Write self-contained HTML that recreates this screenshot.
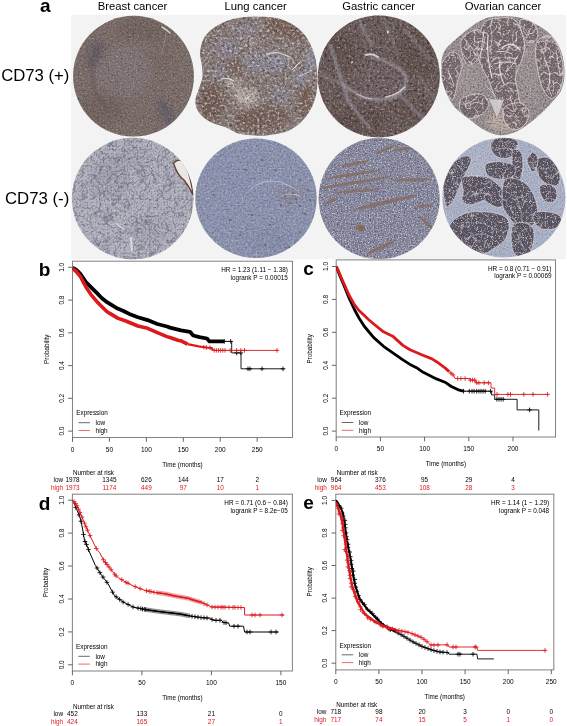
<!DOCTYPE html><html><head><meta charset="utf-8"><style>html,body{margin:0;padding:0;background:#fff;}svg{display:block}</style></head><body>
<svg width="567" height="726" viewBox="0 0 567 726" font-family='"Liberation Sans", sans-serif'>
<rect width="567" height="726" fill="#fff"/>
<defs><filter id="blur3" x="-20%" y="-20%" width="140%" height="140%"><feGaussianBlur stdDeviation="3"/></filter><filter id="blur1" x="-20%" y="-20%" width="140%" height="140%"><feGaussianBlur stdDeviation="0.9"/></filter><clipPath id="c_bp"><circle cx="133.5" cy="76.2" r="60.4"/></clipPath><clipPath id="c_lp"><path d="M255.0 16.8C262.8 16.8 272.5 16.8 280.0 19.0C287.5 21.2 294.7 25.2 300.0 30.0C305.3 34.8 309.2 41.3 312.0 48.0C314.8 54.7 316.3 62.2 317.0 70.0C317.7 77.8 317.7 87.5 316.0 95.0C314.3 102.5 311.3 109.2 307.0 115.0C302.7 120.8 297.0 126.6 290.0 130.0C283.0 133.4 273.2 134.8 265.0 135.5C256.8 136.2 246.3 134.8 241.0 134.0C235.7 133.2 235.7 132.2 233.0 131.0C230.3 129.8 228.2 128.2 225.0 127.0C221.8 125.8 217.3 124.9 214.0 123.5C210.7 122.1 207.8 120.8 205.0 118.5C202.2 116.2 198.8 112.6 197.2 109.4C195.6 106.2 195.3 102.8 195.6 99.5C195.8 96.2 197.6 93.3 198.7 89.6C199.8 85.9 201.9 81.3 202.4 77.2C202.9 73.1 202.2 68.9 201.8 64.8C201.4 60.7 199.6 56.9 200.0 52.4C200.4 47.9 201.5 42.2 204.0 38.0C206.5 33.8 210.2 30.2 215.0 27.0C219.8 23.8 226.3 20.7 233.0 19.0C239.7 17.3 247.2 16.8 255.0 16.8Z" fill="#000" fill-opacity="1.0"/></clipPath><clipPath id="c_gp"><circle cx="378.8" cy="76.4" r="61"/></clipPath><clipPath id="c_op"><path d="M493.0 16.8C499.3 16.2 510.9 16.0 518.0 17.2C525.1 18.4 530.0 21.0 535.5 24.0C541.0 27.0 546.8 30.5 551.0 35.0C555.2 39.5 558.7 44.8 561.0 51.0C563.3 57.2 564.5 65.6 564.6 72.0C564.7 78.4 563.4 84.7 561.5 89.5C559.6 94.3 556.2 97.2 553.0 101.0C549.8 104.8 546.0 108.8 542.0 112.5C538.0 116.2 533.4 120.2 529.0 123.5C524.6 126.8 520.3 130.0 515.5 132.0C510.7 134.0 505.2 135.6 500.0 135.3C494.8 135.0 489.6 132.7 484.4 130.0C479.2 127.3 474.2 123.1 469.0 119.0C463.8 114.9 457.4 110.8 453.3 105.5C449.2 100.2 446.2 93.3 444.2 87.3C442.1 81.3 441.0 75.4 441.0 69.5C441.0 63.6 441.7 56.7 444.0 51.8C446.3 46.9 450.9 43.8 455.0 40.0C459.1 36.2 464.3 32.0 468.5 28.8C472.7 25.6 475.9 23.0 480.0 21.0C484.1 19.0 486.7 17.4 493.0 16.8Z" fill="#000" fill-opacity="1.0"/></clipPath><clipPath id="c_bm"><circle cx="132.7" cy="198.6" r="60.8"/></clipPath><clipPath id="c_lm"><ellipse cx="256" cy="198.3" rx="60.7" ry="59.8"/></clipPath><clipPath id="c_gm"><circle cx="379.2" cy="198.6" r="60.5"/></clipPath><clipPath id="c_om"><ellipse cx="503.9" cy="197.6" rx="61.5" ry="59.8"/></clipPath><clipPath id="pp_op"><path d="M484.4 22.9C488.1 18.4 494.8 18.4 500.0 18.0C505.2 17.6 511.5 16.6 515.6 20.7C519.7 24.8 523.3 36.6 524.4 42.9C525.5 49.2 523.7 52.8 522.2 58.4C520.7 64.0 516.3 70.6 515.6 76.2C514.9 81.8 517.1 86.6 517.8 91.8C518.5 97.0 520.8 102.9 520.0 107.3C519.2 111.7 515.9 117.7 513.3 118.4C510.7 119.2 507.3 115.1 504.4 111.8C501.4 108.5 498.2 103.6 495.6 98.4C493.0 93.2 491.5 86.6 488.9 80.7C486.3 74.8 481.9 68.8 480.0 62.9C478.1 57.0 477.1 51.8 477.8 45.1C478.5 38.4 480.7 27.4 484.4 22.9Z" fill="#000" fill-opacity="1.0"/><path d="M462.2 38.4C464.8 34.3 474.1 29.2 477.8 29.6C481.5 30.0 484.4 35.9 484.4 40.7C484.4 45.5 480.4 54.3 477.8 58.4C475.2 62.5 471.5 65.8 468.9 65.1C466.3 64.4 463.3 58.5 462.2 54.0C461.1 49.5 459.6 42.5 462.2 38.4Z" fill="#000" fill-opacity="1.0"/><path d="M442.2 62.9C444.1 58.1 450.0 51.8 453.3 51.8C456.6 51.8 461.4 58.1 462.2 62.9C462.9 67.7 459.3 74.8 457.8 80.7C456.3 86.6 455.2 96.2 453.3 98.4C451.4 100.6 448.6 97.0 446.7 94.0C444.8 91.0 442.9 85.9 442.2 80.7C441.4 75.5 440.3 67.7 442.2 62.9Z" fill="#000" fill-opacity="1.0"/><path d="M537.8 40.7C540.4 37.7 547.4 34.4 551.1 36.2C554.8 38.1 558.0 45.9 560.0 51.8C562.0 57.7 563.3 65.5 563.3 71.8C563.3 78.1 562.0 85.2 560.0 89.6C558.0 94.0 554.1 98.8 551.1 98.4C548.1 98.0 544.4 92.1 542.2 87.3C540.0 82.5 538.9 75.1 537.8 69.6C536.7 64.0 535.6 58.8 535.6 54.0C535.6 49.2 535.2 43.7 537.8 40.7Z" fill="#000" fill-opacity="1.0"/><path d="M462.2 98.4C465.5 95.8 475.6 93.2 480.0 94.0C484.4 94.8 488.5 99.6 488.9 102.9C489.3 106.2 485.5 111.4 482.2 114.0C478.9 116.6 472.6 119.1 468.9 118.4C465.2 117.7 461.1 112.9 460.0 109.6C458.9 106.3 458.9 101.0 462.2 98.4Z" fill="#000" fill-opacity="1.0"/><path d="M504.4 107.3C507.0 104.3 515.9 102.2 520.0 102.9C524.1 103.7 528.2 108.1 528.9 111.8C529.6 115.5 527.0 122.1 524.4 125.1C521.8 128.1 516.6 130.3 513.3 129.6C510.0 128.9 505.9 124.4 504.4 120.7C502.9 117.0 501.8 110.3 504.4 107.3Z" fill="#000" fill-opacity="1.0"/><path d="M520.0 20.7C521.5 18.1 530.3 20.3 533.3 22.9C536.3 25.5 538.2 32.9 537.8 36.2C537.4 39.5 533.3 42.5 531.1 42.9C528.9 43.3 526.2 42.1 524.4 38.4C522.5 34.7 518.5 23.3 520.0 20.7Z" fill="#000" fill-opacity="1.0"/></clipPath><clipPath id="pp_om"><path d="M491.1 142.7C492.0 140.5 494.5 138.9 497.8 138.2C501.1 137.4 507.8 137.4 511.1 138.2C514.4 138.9 516.9 140.8 517.8 142.7C518.7 144.5 517.5 147.3 516.7 149.3C516.0 151.3 515.0 153.4 513.3 154.9C511.6 156.4 509.3 157.8 506.7 158.2C504.1 158.6 500.2 158.2 497.8 157.1C495.4 156.0 493.3 154.0 492.2 151.6C491.1 149.2 490.2 144.9 491.1 142.7Z" fill="#000" fill-opacity="1.0"/><path d="M513.0 150.0C514.5 148.2 519.3 149.5 521.0 152.0C522.7 154.5 523.2 160.3 523.0 165.0C522.8 169.7 521.7 177.8 520.0 180.0C518.3 182.2 514.3 180.8 513.0 178.0C511.7 175.2 512.0 167.7 512.0 163.0C512.0 158.3 511.5 151.8 513.0 150.0Z" fill="#000" fill-opacity="1.0"/><path d="M444.4 176.0C445.8 171.4 448.7 167.3 452.0 164.0C455.3 160.7 461.2 156.6 464.4 156.0C467.6 155.4 471.5 156.3 471.1 160.4C470.7 164.5 465.2 173.7 462.2 180.4C459.2 187.1 455.9 196.0 453.3 200.4C450.7 204.8 448.4 208.6 446.7 207.1C445.0 205.6 443.7 196.8 443.3 191.6C442.9 186.4 442.9 180.6 444.4 176.0Z" fill="#000" fill-opacity="1.0"/><path d="M462.2 178.2C463.9 175.6 469.2 176.2 473.3 176.0C477.4 175.8 483.0 176.0 486.7 177.1C490.4 178.2 492.7 180.3 495.6 182.7C498.6 185.1 502.5 188.6 504.4 191.6C506.2 194.6 507.4 197.8 506.7 200.4C506.0 203.0 502.6 206.3 500.0 207.1C497.4 207.8 493.7 206.0 491.1 204.9C488.5 203.8 486.6 200.8 484.4 200.4C482.2 200.0 480.4 201.9 477.8 202.7C475.2 203.4 471.5 205.3 468.9 204.9C466.3 204.5 463.1 202.6 462.2 200.4C461.3 198.2 463.3 195.3 463.3 191.6C463.3 187.9 460.5 180.8 462.2 178.2Z" fill="#000" fill-opacity="1.0"/><path d="M485.6 164.9C487.1 162.9 492.1 162.0 495.6 161.6C499.1 161.2 503.4 161.8 506.7 162.7C510.0 163.6 514.5 164.9 515.6 167.1C516.7 169.3 515.2 174.0 513.3 176.0C511.4 178.0 507.7 178.9 504.4 179.3C501.1 179.7 496.2 179.1 493.3 178.2C490.4 177.3 488.0 176.0 486.7 173.8C485.4 171.6 484.1 166.9 485.6 164.9Z" fill="#000" fill-opacity="1.0"/><path d="M504.4 180.4C507.0 176.5 513.7 178.2 517.8 179.3C521.9 180.4 525.9 183.6 528.9 187.1C531.9 190.6 534.1 195.9 535.6 200.4C537.1 204.9 538.2 209.7 537.8 213.8C537.4 217.9 535.5 222.3 533.3 224.9C531.1 227.5 527.3 229.3 524.4 229.3C521.5 229.3 518.6 227.5 515.6 224.9C512.6 222.3 508.9 217.5 506.7 213.8C504.5 210.1 502.6 208.3 502.2 202.7C501.8 197.1 501.8 184.3 504.4 180.4Z" fill="#000" fill-opacity="1.0"/><path d="M535.6 160.4C537.3 158.4 543.4 156.3 546.7 157.1C550.0 157.8 553.4 161.8 555.6 164.9C557.8 168.1 559.6 172.7 560.0 176.0C560.4 179.3 559.6 183.4 557.8 184.9C555.9 186.4 551.9 186.0 548.9 184.9C545.9 183.8 542.0 180.8 540.0 178.2C538.0 175.6 537.4 172.3 536.7 169.3C536.0 166.3 533.9 162.4 535.6 160.4Z" fill="#000" fill-opacity="1.0"/><path d="M540.0 186.0C541.5 183.8 548.3 184.0 551.1 184.9C553.9 185.8 556.0 189.0 556.7 191.6C557.5 194.2 556.9 198.6 555.6 200.4C554.3 202.2 551.1 203.1 548.9 202.7C546.7 202.3 543.7 201.0 542.2 198.2C540.7 195.4 538.5 188.2 540.0 186.0Z" fill="#000" fill-opacity="1.0"/><path d="M453.3 220.4C455.9 217.8 460.3 215.3 464.4 213.8C468.5 212.3 473.0 211.8 477.8 211.6C482.6 211.4 488.5 211.6 493.3 212.7C498.1 213.8 504.1 215.4 506.7 218.2C509.3 221.0 509.3 225.6 508.9 229.3C508.5 233.0 506.6 237.4 504.4 240.4C502.2 243.4 498.9 244.9 495.6 247.1C492.3 249.3 488.1 252.7 484.4 253.8C480.7 254.9 477.0 254.9 473.3 253.8C469.6 252.7 465.5 249.7 462.2 247.1C458.9 244.5 455.5 241.2 453.3 238.2C451.1 235.2 448.9 232.3 448.9 229.3C448.9 226.3 450.7 223.0 453.3 220.4Z" fill="#000" fill-opacity="1.0"/><path d="M533.3 213.8C534.8 211.2 542.2 211.2 546.7 211.6C551.2 212.0 557.8 213.8 560.0 216.0C562.2 218.2 561.5 222.7 560.0 224.9C558.5 227.1 554.8 228.9 551.1 229.3C547.4 229.7 540.8 229.7 537.8 227.1C534.8 224.5 531.8 216.4 533.3 213.8Z" fill="#000" fill-opacity="1.0"/><path d="M513.3 224.9C515.5 222.3 521.1 222.0 524.4 222.7C527.7 223.4 531.8 226.0 533.3 229.3C534.8 232.6 534.0 238.6 533.3 242.7C532.6 246.8 531.1 251.4 528.9 253.8C526.7 256.2 522.6 257.5 520.0 257.1C517.4 256.7 514.8 254.8 513.3 251.6C511.8 248.4 511.1 242.6 511.1 238.2C511.1 233.8 511.1 227.5 513.3 224.9Z" fill="#000" fill-opacity="1.0"/><path d="M527.0 160.0C527.0 156.7 531.2 152.0 533.0 152.0C534.8 152.0 538.0 156.7 538.0 160.0C538.0 163.3 534.8 172.0 533.0 172.0C531.2 172.0 527.0 163.3 527.0 160.0Z" fill="#000" fill-opacity="1.0"/></clipPath><filter id="f0" x="0" y="0" width="1" height="1" color-interpolation-filters="sRGB"><feTurbulence type="fractalNoise" baseFrequency="0.6" numOctaves="2" seed="55"/><feColorMatrix type="matrix" values="0 0 0 0 0.867  0 0 0 0 0.816  0 0 0 0 0.800  2.8 0 0 0 -1.45"/></filter><filter id="f1" x="0" y="0" width="1" height="1" color-interpolation-filters="sRGB"><feTurbulence type="turbulence" baseFrequency="0.12" numOctaves="2" seed="57"/><feColorMatrix type="matrix" values="0 0 0 0 0.894  0 0 0 0 0.863  0 0 0 0 0.863  -6 0 0 0 1.1"/></filter><filter id="f2" x="0" y="0" width="1" height="1" color-interpolation-filters="sRGB"><feTurbulence type="fractalNoise" baseFrequency="0.8" numOctaves="2" seed="95"/><feColorMatrix type="matrix" values="0 0 0 0 0.894  0 0 0 0 0.863  0 0 0 0 0.847  2.9 0 0 0 -1.5"/></filter><filter id="f3" x="0" y="0" width="1" height="1" color-interpolation-filters="sRGB"><feTurbulence type="turbulence" baseFrequency="0.13" numOctaves="2" seed="97"/><feColorMatrix type="matrix" values="0 0 0 0 0.867  0 0 0 0 0.831  0 0 0 0 0.831  -7 0 0 0 1.0"/></filter><filter id="f4" x="0" y="0" width="1" height="1" color-interpolation-filters="sRGB"><feTurbulence type="fractalNoise" baseFrequency="0.6" numOctaves="2" seed="11"/><feColorMatrix type="matrix" values="0 0 0 0 0.212  0 0 0 0 0.173  0 0 0 0 0.173  2.2 0 0 0 -1.05"/></filter><filter id="f5" x="0" y="0" width="1" height="1" color-interpolation-filters="sRGB"><feTurbulence type="fractalNoise" baseFrequency="0.55" numOctaves="2" seed="23"/><feColorMatrix type="matrix" values="0 0 0 0 0.863  0 0 0 0 0.831  0 0 0 0 0.831  2.6 0 0 0 -1.5"/></filter><filter id="f6" x="0" y="0" width="1" height="1" color-interpolation-filters="sRGB"><feTurbulence type="fractalNoise" baseFrequency="0.4" numOctaves="2" seed="31"/><feColorMatrix type="matrix" values="0 0 0 0 0.290  0 0 0 0 0.220  0 0 0 0 0.188  3.0 0 0 0 -1.5"/></filter><filter id="f7" x="0" y="0" width="1" height="1" color-interpolation-filters="sRGB"><feTurbulence type="fractalNoise" baseFrequency="0.4" numOctaves="2" seed="37"/><feColorMatrix type="matrix" values="0 0 0 0 0.863  0 0 0 0 0.839  0 0 0 0 0.831  3.0 0 0 0 -1.5"/></filter><filter id="f8" x="0" y="0" width="1" height="1" color-interpolation-filters="sRGB"><feTurbulence type="fractalNoise" baseFrequency="0.9" numOctaves="2" seed="39"/><feColorMatrix type="matrix" values="0 0 0 0 0.227  0 0 0 0 0.173  0 0 0 0 0.157  2.4 0 0 0 -1.2"/></filter><filter id="f9" x="0" y="0" width="1" height="1" color-interpolation-filters="sRGB"><feTurbulence type="fractalNoise" baseFrequency="0.4" numOctaves="2" seed="41"/><feColorMatrix type="matrix" values="0 0 0 0 0.227  0 0 0 0 0.165  0 0 0 0 0.157  2.8 0 0 0 -1.35"/></filter><filter id="f10" x="0" y="0" width="1" height="1" color-interpolation-filters="sRGB"><feTurbulence type="fractalNoise" baseFrequency="0.45" numOctaves="2" seed="43"/><feColorMatrix type="matrix" values="0 0 0 0 0.831  0 0 0 0 0.800  0 0 0 0 0.816  2.8 0 0 0 -1.55"/></filter><filter id="f11" x="0" y="0" width="1" height="1" color-interpolation-filters="sRGB"><feTurbulence type="fractalNoise" baseFrequency="0.5" numOctaves="2" seed="45"/><feColorMatrix type="matrix" values="0 0 0 0 0.541  0 0 0 0 0.353  0 0 0 0 0.251  3.0 0 0 0 -1.6"/></filter><filter id="f12" x="0" y="0" width="1" height="1" color-interpolation-filters="sRGB"><feTurbulence type="fractalNoise" baseFrequency="0.9" numOctaves="2" seed="47"/><feColorMatrix type="matrix" values="0 0 0 0 0.180  0 0 0 0 0.133  0 0 0 0 0.133  2.4 0 0 0 -1.2"/></filter><filter id="f13" x="0" y="0" width="1" height="1" color-interpolation-filters="sRGB"><feTurbulence type="fractalNoise" baseFrequency="0.6" numOctaves="2" seed="51"/><feColorMatrix type="matrix" values="0 0 0 0 0.290  0 0 0 0 0.227  0 0 0 0 0.235  2.3 0 0 0 -1.05"/></filter><filter id="f14" x="0" y="0" width="1" height="1" color-interpolation-filters="sRGB"><feTurbulence type="fractalNoise" baseFrequency="0.6" numOctaves="2" seed="53"/><feColorMatrix type="matrix" values="0 0 0 0 0.894  0 0 0 0 0.863  0 0 0 0 0.863  2.4 0 0 0 -1.3"/></filter><filter id="f15" x="0" y="0" width="1" height="1" color-interpolation-filters="sRGB"><feTurbulence type="fractalNoise" baseFrequency="0.55" numOctaves="2" seed="61"/><feColorMatrix type="matrix" values="0 0 0 0 0.361  0 0 0 0 0.369  0 0 0 0 0.439  2.6 0 0 0 -1.2"/></filter><filter id="f16" x="0" y="0" width="1" height="1" color-interpolation-filters="sRGB"><feTurbulence type="fractalNoise" baseFrequency="0.5" numOctaves="2" seed="63"/><feColorMatrix type="matrix" values="0 0 0 0 0.847  0 0 0 0 0.847  0 0 0 0 0.871  2.4 0 0 0 -1.15"/></filter><filter id="f17" x="0" y="0" width="1" height="1" color-interpolation-filters="sRGB"><feTurbulence type="turbulence" baseFrequency="0.12" numOctaves="2" seed="65"/><feColorMatrix type="matrix" values="0 0 0 0 0.353  0 0 0 0 0.353  0 0 0 0 0.447  -6 0 0 0 1.05"/></filter><filter id="f18" x="0" y="0" width="1" height="1" color-interpolation-filters="sRGB"><feTurbulence type="fractalNoise" baseFrequency="0.55" numOctaves="2" seed="71"/><feColorMatrix type="matrix" values="0 0 0 0 0.353  0 0 0 0 0.369  0 0 0 0 0.478  2.4 0 0 0 -1.1"/></filter><filter id="f19" x="0" y="0" width="1" height="1" color-interpolation-filters="sRGB"><feTurbulence type="fractalNoise" baseFrequency="0.5" numOctaves="2" seed="73"/><feColorMatrix type="matrix" values="0 0 0 0 0.784  0 0 0 0 0.792  0 0 0 0 0.847  2.6 0 0 0 -1.35"/></filter><filter id="f20" x="0" y="0" width="1" height="1" color-interpolation-filters="sRGB"><feTurbulence type="fractalNoise" baseFrequency="0.7" numOctaves="2" seed="81"/><feColorMatrix type="matrix" values="0 0 0 0 0.306  0 0 0 0 0.306  0 0 0 0 0.400  2.6 0 0 0 -1.15"/></filter><filter id="f21" x="0" y="0" width="1" height="1" color-interpolation-filters="sRGB"><feTurbulence type="fractalNoise" baseFrequency="0.75" numOctaves="2" seed="83"/><feColorMatrix type="matrix" values="0 0 0 0 0.894  0 0 0 0 0.894  0 0 0 0 0.925  2.8 0 0 0 -1.42"/></filter><filter id="f22" x="0" y="0" width="1" height="1" color-interpolation-filters="sRGB"><feTurbulence type="fractalNoise" baseFrequency="0.7" numOctaves="2" seed="91"/><feColorMatrix type="matrix" values="0 0 0 0 0.314  0 0 0 0 0.314  0 0 0 0 0.369  2.2 0 0 0 -1.1"/></filter><filter id="f23" x="0" y="0" width="1" height="1" color-interpolation-filters="sRGB"><feTurbulence type="fractalNoise" baseFrequency="0.8" numOctaves="2" seed="93"/><feColorMatrix type="matrix" values="0 0 0 0 0.910  0 0 0 0 0.910  0 0 0 0 0.933  2.6 0 0 0 -1.35"/></filter></defs>
<rect x="71" y="14.8" width="495" height="244.5" fill="#f3f3f3"/>
<g clip-path="url(#c_bp)">
<rect x="72" y="15" width="123" height="123" fill="#7d6f6b"/>
<g filter="url(#blur3)"><ellipse cx="125" cy="72" rx="28" ry="24" transform="rotate(0 125 72)" fill="#857a80" fill-opacity="0.6"/><ellipse cx="95" cy="55" rx="8" ry="14" transform="rotate(20 95 55)" fill="#5e5660" fill-opacity="0.6"/><ellipse cx="165" cy="112" rx="8" ry="14" transform="rotate(-30 165 112)" fill="#5e5a66" fill-opacity="0.5"/><ellipse cx="100" cy="110" rx="25" ry="15" transform="rotate(0 100 110)" fill="#6e5e58" fill-opacity="0.5"/><ellipse cx="160" cy="55" rx="15" ry="20" transform="rotate(0 160 55)" fill="#7a6a64" fill-opacity="0.4"/><ellipse cx="145" cy="30" rx="30" ry="10" transform="rotate(0 145 30)" fill="#6a5a56" fill-opacity="0.4"/></g>
<rect x="72" y="15" width="123" height="123" fill="#000" filter="url(#f4)" opacity="0.6"/>
<rect x="72" y="15" width="123" height="123" fill="#000" filter="url(#f5)" opacity="0.5"/>
<g filter="url(#blur1)"><path d="M102 42 Q88 58 94 88 Q98 100 108 108" stroke="#5c5460" stroke-width="2.6" stroke-linecap="round" stroke-linejoin="round" stroke-opacity="0.5" fill="none"/><path d="M160 100 Q168 110 170 124" stroke="#585466" stroke-width="2.6" stroke-linecap="round" stroke-linejoin="round" stroke-opacity="0.45" fill="none"/><path d="M118 50 Q140 44 158 52" stroke="#8e8490" stroke-width="2.0" stroke-linecap="round" stroke-linejoin="round" stroke-opacity="0.35" fill="none"/></g>
<path d="M162 27 Q167 30 170 33" stroke="#e8e8e8" stroke-width="1.5" stroke-linecap="round" stroke-linejoin="round" stroke-opacity="0.8" fill="none"/><path d="M166 34 Q165 45 161 56" stroke="#b0acb4" stroke-width="0.8" stroke-linecap="round" stroke-linejoin="round" stroke-opacity="0.5" fill="none"/>
</g>
<g clip-path="url(#c_lp)">
<rect x="194" y="15" width="125" height="123" fill="#887c7a"/>
<g filter="url(#blur3)"><ellipse cx="290" cy="28" rx="25" ry="10" transform="rotate(10 290 28)" fill="#6e5448" fill-opacity="0.6"/><ellipse cx="212" cy="102" rx="12" ry="20" transform="rotate(0 212 102)" fill="#6a5044" fill-opacity="0.6"/><ellipse cx="262" cy="118" rx="28" ry="12" transform="rotate(-5 262 118)" fill="#6e5448" fill-opacity="0.6"/><ellipse cx="305" cy="100" rx="8" ry="16" transform="rotate(0 305 100)" fill="#6e5446" fill-opacity="0.6"/><ellipse cx="235" cy="65" rx="10" ry="8" transform="rotate(0 235 65)" fill="#6e5446" fill-opacity="0.5"/><ellipse cx="266" cy="62" rx="25" ry="10" transform="rotate(0 266 62)" fill="#8e92a8" fill-opacity="0.7"/><ellipse cx="228" cy="48" rx="12" ry="10" transform="rotate(0 228 48)" fill="#8e90a6" fill-opacity="0.6"/><ellipse cx="300" cy="78" rx="8" ry="8" transform="rotate(0 300 78)" fill="#9094aa" fill-opacity="0.6"/><ellipse cx="245" cy="30" rx="12" ry="6" transform="rotate(0 245 30)" fill="#8c8ca2" fill-opacity="0.6"/><ellipse cx="282" cy="95" rx="10" ry="8" transform="rotate(0 282 95)" fill="#8e8ea4" fill-opacity="0.6"/><ellipse cx="218" cy="72" rx="8" ry="8" transform="rotate(0 218 72)" fill="#8c8ca2" fill-opacity="0.6"/><ellipse cx="311" cy="62" rx="5" ry="12" transform="rotate(0 311 62)" fill="#9498b0" fill-opacity="0.8"/><ellipse cx="246" cy="97" rx="12" ry="9" transform="rotate(20 246 97)" fill="#c4b8b2" fill-opacity="0.85"/><ellipse cx="232" cy="84" rx="7" ry="5" transform="rotate(0 232 84)" fill="#c8c0bc" fill-opacity="0.7"/><ellipse cx="250" cy="42" rx="6" ry="5" transform="rotate(0 250 42)" fill="#b0a8a8" fill-opacity="0.6"/></g>
<rect x="194" y="15" width="125" height="123" fill="#000" filter="url(#f6)" opacity="0.8"/>
<rect x="194" y="15" width="125" height="123" fill="#000" filter="url(#f7)" opacity="0.85"/>
<rect x="194" y="15" width="125" height="123" fill="#000" filter="url(#f8)" opacity="0.35"/>
<path d="M266 55 Q274 51 282 54 Q287 56 290 57" stroke="#eeeeee" stroke-width="1.2" stroke-linecap="round" stroke-linejoin="round" stroke-opacity="0.8" fill="none"/><path d="M292 70 L300 62" stroke="#f2f2f2" stroke-width="1.0" stroke-linecap="round" stroke-linejoin="round" stroke-opacity="0.85" fill="none"/><path d="M299 76 L309 72" stroke="#eeeeee" stroke-width="0.9" stroke-linecap="round" stroke-linejoin="round" stroke-opacity="0.8" fill="none"/><path d="M221 79 Q228 77 234 81" stroke="#f0f0f0" stroke-width="1.0" stroke-linecap="round" stroke-linejoin="round" stroke-opacity="0.85" fill="none"/><path d="M246 100 Q250 94 256 92" stroke="#ffffff" stroke-width="0.9" stroke-linecap="round" stroke-linejoin="round" stroke-opacity="0.6" fill="none"/>
</g>
<g clip-path="url(#c_gp)">
<rect x="317" y="15" width="124" height="124" fill="#6e6262"/>
<g filter="url(#blur3)"><ellipse cx="378" cy="80" rx="28" ry="16" transform="rotate(15 378 80)" fill="#7a6e74" fill-opacity="0.5"/><ellipse cx="340" cy="50" rx="15" ry="25" transform="rotate(-30 340 50)" fill="#5e4e4c" fill-opacity="0.6"/><ellipse cx="415" cy="55" rx="15" ry="25" transform="rotate(-30 415 55)" fill="#5e4e4a" fill-opacity="0.6"/><ellipse cx="360" cy="120" rx="25" ry="12" transform="rotate(0 360 120)" fill="#5c4c48" fill-opacity="0.6"/><ellipse cx="410" cy="110" rx="18" ry="12" transform="rotate(0 410 110)" fill="#62524e" fill-opacity="0.5"/></g>
<rect x="317" y="15" width="124" height="124" fill="#000" filter="url(#f9)" opacity="0.85"/>
<rect x="317" y="15" width="124" height="124" fill="#000" filter="url(#f10)" opacity="0.7"/>
<rect x="317" y="15" width="124" height="124" fill="#000" filter="url(#f11)" opacity="0.6"/>
<rect x="317" y="15" width="124" height="124" fill="#000" filter="url(#f12)" opacity="0.4"/>
<g filter="url(#blur1)"><path d="M330 45 Q338 70 348 100 Q358 115 370 128" stroke="#a09cac" stroke-width="2.8" stroke-linecap="round" stroke-linejoin="round" stroke-opacity="0.65" fill="none"/><path d="M360 22 Q366 35 372 45" stroke="#a09cac" stroke-width="2.4" stroke-linecap="round" stroke-linejoin="round" stroke-opacity="0.6" fill="none"/><path d="M372 57 Q395 62 406 76 Q408 90 392 98 Q375 102 360 96 Q350 90 343 84" stroke="#a8a4b4" stroke-width="2.6" stroke-linecap="round" stroke-linejoin="round" stroke-opacity="0.7" fill="none"/><path d="M400 95 Q412 108 425 120" stroke="#9c98a8" stroke-width="2.4" stroke-linecap="round" stroke-linejoin="round" stroke-opacity="0.6" fill="none"/><path d="M405 30 Q418 45 430 60" stroke="#9c98a8" stroke-width="2.2" stroke-linecap="round" stroke-linejoin="round" stroke-opacity="0.55" fill="none"/><path d="M320 75 Q330 78 342 84" stroke="#9c98a8" stroke-width="2.0" stroke-linecap="round" stroke-linejoin="round" stroke-opacity="0.5" fill="none"/><path d="M385 20 Q392 40 398 55" stroke="#948f9e" stroke-width="2.0" stroke-linecap="round" stroke-linejoin="round" stroke-opacity="0.45" fill="none"/><path d="M418 75 Q428 90 436 100" stroke="#948f9e" stroke-width="2.0" stroke-linecap="round" stroke-linejoin="round" stroke-opacity="0.45" fill="none"/></g>
<path d="M366 55 Q372 53 378 57" stroke="#e8e6ea" stroke-width="2.0" stroke-linecap="round" stroke-linejoin="round" stroke-opacity="0.85" fill="none"/><path d="M386 97 Q397 95 405 87" stroke="#e6e4e8" stroke-width="1.5" stroke-linecap="round" stroke-linejoin="round" stroke-opacity="0.8" fill="none"/><path d="M357 94 Q364 98 372 99" stroke="#e6e4e8" stroke-width="1.1" stroke-linecap="round" stroke-linejoin="round" stroke-opacity="0.6" fill="none"/><ellipse cx="388" cy="32" rx="1.2" ry="1.2" transform="rotate(0 388 32)" fill="#f0f0f0" fill-opacity="0.8"/><ellipse cx="352" cy="62" rx="1.0" ry="1.0" transform="rotate(0 352 62)" fill="#f0f0f0" fill-opacity="0.8"/>
</g>
<g clip-path="url(#c_op)">
<rect x="440" y="15" width="126" height="122" fill="#9a9294"/>
<g filter="url(#blur3)"><ellipse cx="505" cy="122" rx="18" ry="10" transform="rotate(0 505 122)" fill="#c2b4aa" fill-opacity="0.8"/><ellipse cx="468" cy="80" rx="10" ry="20" transform="rotate(0 468 80)" fill="#aaa2a2" fill-opacity="0.5"/><ellipse cx="530" cy="75" rx="8" ry="30" transform="rotate(0 530 75)" fill="#a8a0a0" fill-opacity="0.5"/></g>
<rect x="440" y="15" width="126" height="122" fill="#000" filter="url(#f13)" opacity="0.7"/>
<rect x="440" y="15" width="126" height="122" fill="#000" filter="url(#f14)" opacity="0.6"/>
<path d="M484.4 22.9C488.1 18.4 494.8 18.4 500.0 18.0C505.2 17.6 511.5 16.6 515.6 20.7C519.7 24.8 523.3 36.6 524.4 42.9C525.5 49.2 523.7 52.8 522.2 58.4C520.7 64.0 516.3 70.6 515.6 76.2C514.9 81.8 517.1 86.6 517.8 91.8C518.5 97.0 520.8 102.9 520.0 107.3C519.2 111.7 515.9 117.7 513.3 118.4C510.7 119.2 507.3 115.1 504.4 111.8C501.4 108.5 498.2 103.6 495.6 98.4C493.0 93.2 491.5 86.6 488.9 80.7C486.3 74.8 481.9 68.8 480.0 62.9C478.1 57.0 477.1 51.8 477.8 45.1C478.5 38.4 480.7 27.4 484.4 22.9Z" fill="#6a5c60" fill-opacity="0.85" stroke="#ece8ea" stroke-width="0.9" stroke-opacity="0.75"/><path d="M462.2 38.4C464.8 34.3 474.1 29.2 477.8 29.6C481.5 30.0 484.4 35.9 484.4 40.7C484.4 45.5 480.4 54.3 477.8 58.4C475.2 62.5 471.5 65.8 468.9 65.1C466.3 64.4 463.3 58.5 462.2 54.0C461.1 49.5 459.6 42.5 462.2 38.4Z" fill="#6a5c60" fill-opacity="0.85" stroke="#ece8ea" stroke-width="0.9" stroke-opacity="0.75"/><path d="M442.2 62.9C444.1 58.1 450.0 51.8 453.3 51.8C456.6 51.8 461.4 58.1 462.2 62.9C462.9 67.7 459.3 74.8 457.8 80.7C456.3 86.6 455.2 96.2 453.3 98.4C451.4 100.6 448.6 97.0 446.7 94.0C444.8 91.0 442.9 85.9 442.2 80.7C441.4 75.5 440.3 67.7 442.2 62.9Z" fill="#6a5c60" fill-opacity="0.85" stroke="#ece8ea" stroke-width="0.9" stroke-opacity="0.75"/><path d="M537.8 40.7C540.4 37.7 547.4 34.4 551.1 36.2C554.8 38.1 558.0 45.9 560.0 51.8C562.0 57.7 563.3 65.5 563.3 71.8C563.3 78.1 562.0 85.2 560.0 89.6C558.0 94.0 554.1 98.8 551.1 98.4C548.1 98.0 544.4 92.1 542.2 87.3C540.0 82.5 538.9 75.1 537.8 69.6C536.7 64.0 535.6 58.8 535.6 54.0C535.6 49.2 535.2 43.7 537.8 40.7Z" fill="#6a5c60" fill-opacity="0.85" stroke="#ece8ea" stroke-width="0.9" stroke-opacity="0.75"/><path d="M462.2 98.4C465.5 95.8 475.6 93.2 480.0 94.0C484.4 94.8 488.5 99.6 488.9 102.9C489.3 106.2 485.5 111.4 482.2 114.0C478.9 116.6 472.6 119.1 468.9 118.4C465.2 117.7 461.1 112.9 460.0 109.6C458.9 106.3 458.9 101.0 462.2 98.4Z" fill="#6a5c60" fill-opacity="0.85" stroke="#ece8ea" stroke-width="0.9" stroke-opacity="0.75"/><path d="M504.4 107.3C507.0 104.3 515.9 102.2 520.0 102.9C524.1 103.7 528.2 108.1 528.9 111.8C529.6 115.5 527.0 122.1 524.4 125.1C521.8 128.1 516.6 130.3 513.3 129.6C510.0 128.9 505.9 124.4 504.4 120.7C502.9 117.0 501.8 110.3 504.4 107.3Z" fill="#6a5c60" fill-opacity="0.85" stroke="#ece8ea" stroke-width="0.9" stroke-opacity="0.75"/><path d="M520.0 20.7C521.5 18.1 530.3 20.3 533.3 22.9C536.3 25.5 538.2 32.9 537.8 36.2C537.4 39.5 533.3 42.5 531.1 42.9C528.9 43.3 526.2 42.1 524.4 38.4C522.5 34.7 518.5 23.3 520.0 20.7Z" fill="#6a5c60" fill-opacity="0.85" stroke="#ece8ea" stroke-width="0.9" stroke-opacity="0.75"/><rect x="440" y="10" width="127" height="255" fill="#000" filter="url(#f0)" opacity="0.9" clip-path="url(#pp_op)"/><rect x="440" y="10" width="127" height="255" fill="#000" filter="url(#f1)" opacity="0.8" clip-path="url(#pp_op)"/><path d="M489 99 L497 117 L504 100 Z" fill="#e4e0e0" fill-opacity="0.7"/><path d="M488 35 Q486 55 492 78" stroke="#f2f2f2" stroke-width="1.2" stroke-linecap="round" stroke-linejoin="round" stroke-opacity="0.8" fill="none"/><path d="M502 48 Q512 40 520 50" stroke="#f0f0f0" stroke-width="1.3" stroke-linecap="round" stroke-linejoin="round" stroke-opacity="0.85" fill="none"/><path d="M500 60 Q498 72 504 84" stroke="#eeeeee" stroke-width="1.2" stroke-linecap="round" stroke-linejoin="round" stroke-opacity="0.8" fill="none"/><path d="M506 72 Q514 64 518 56" stroke="#eeeeee" stroke-width="1.0" stroke-linecap="round" stroke-linejoin="round" stroke-opacity="0.7" fill="none"/><path d="M545 60 Q552 72 549 86" stroke="#eeeeee" stroke-width="1.0" stroke-linecap="round" stroke-linejoin="round" stroke-opacity="0.7" fill="none"/><path d="M496 52 Q505 50 512 54" stroke="#eeeeee" stroke-width="1.0" stroke-linecap="round" stroke-linejoin="round" stroke-opacity="0.8" fill="none"/><path d="M494 64 Q506 60 516 64" stroke="#eeeeee" stroke-width="1.0" stroke-linecap="round" stroke-linejoin="round" stroke-opacity="0.7" fill="none"/><path d="M500 88 Q508 80 516 84" stroke="#eeeeee" stroke-width="1.0" stroke-linecap="round" stroke-linejoin="round" stroke-opacity="0.7" fill="none"/><path d="M484 30 L480 60" stroke="#eeeeee" stroke-width="1.0" stroke-linecap="round" stroke-linejoin="round" stroke-opacity="0.7" fill="none"/><path d="M510 96 L514 110" stroke="#eeeeee" stroke-width="0.9" stroke-linecap="round" stroke-linejoin="round" stroke-opacity="0.7" fill="none"/><path d="M470 45 L476 55" stroke="#eeeeee" stroke-width="0.9" stroke-linecap="round" stroke-linejoin="round" stroke-opacity="0.7" fill="none"/><path d="M448 70 L454 85" stroke="#eeeeee" stroke-width="0.9" stroke-linecap="round" stroke-linejoin="round" stroke-opacity="0.7" fill="none"/><path d="M556 50 L560 75" stroke="#eeeeee" stroke-width="0.9" stroke-linecap="round" stroke-linejoin="round" stroke-opacity="0.7" fill="none"/><path d="M470 105 Q476 100 482 104" stroke="#eeeeee" stroke-width="0.9" stroke-linecap="round" stroke-linejoin="round" stroke-opacity="0.7" fill="none"/><path d="M490 25 Q494 40 490 50" stroke="#eeeeee" stroke-width="0.8" stroke-linecap="round" stroke-linejoin="round" stroke-opacity="0.6" fill="none"/><path d="M514 30 Q510 40 516 48" stroke="#eeeeee" stroke-width="0.8" stroke-linecap="round" stroke-linejoin="round" stroke-opacity="0.6" fill="none"/><path d="M466 40 Q472 48 470 58" stroke="#eeeeee" stroke-width="0.8" stroke-linecap="round" stroke-linejoin="round" stroke-opacity="0.6" fill="none"/><path d="M540 45 Q546 55 544 62" stroke="#eeeeee" stroke-width="0.8" stroke-linecap="round" stroke-linejoin="round" stroke-opacity="0.6" fill="none"/><path d="M552 80 Q556 88 552 94" stroke="#eeeeee" stroke-width="0.8" stroke-linecap="round" stroke-linejoin="round" stroke-opacity="0.6" fill="none"/><path d="M508 112 Q516 116 520 124" stroke="#eeeeee" stroke-width="0.8" stroke-linecap="round" stroke-linejoin="round" stroke-opacity="0.6" fill="none"/><path d="M486 86 Q492 92 496 96" stroke="#eeeeee" stroke-width="0.8" stroke-linecap="round" stroke-linejoin="round" stroke-opacity="0.6" fill="none"/><path d="M522 26 Q528 32 530 38" stroke="#eeeeee" stroke-width="0.8" stroke-linecap="round" stroke-linejoin="round" stroke-opacity="0.6" fill="none"/>
</g>
<g clip-path="url(#c_bm)">
<rect x="71" y="137" width="124" height="124" fill="#b0b1bc"/>
<g filter="url(#blur3)"><ellipse cx="110" cy="180" rx="20" ry="20" transform="rotate(0 110 180)" fill="#9696a8" fill-opacity="0.5"/><ellipse cx="150" cy="230" rx="20" ry="15" transform="rotate(0 150 230)" fill="#9a9aac" fill-opacity="0.4"/><ellipse cx="130" cy="160" rx="20" ry="12" transform="rotate(0 130 160)" fill="#9a98a8" fill-opacity="0.4"/></g>
<rect x="71" y="137" width="124" height="124" fill="#000" filter="url(#f15)" opacity="0.7"/>
<rect x="71" y="137" width="124" height="124" fill="#000" filter="url(#f16)" opacity="0.7"/>
<rect x="71" y="137" width="124" height="124" fill="#000" filter="url(#f17)" opacity="0.6"/>
<path d="M173.5 163 Q181 156 186 166 Q191 178 193 195 Q189 186 184 180 Q177 175 173.5 163Z" fill="#eeeae6" fill-opacity="0.95" stroke="#5e4032" stroke-width="1.3"/><path d="M131 238 L132 250" stroke="#e8e8ec" stroke-width="2.0" stroke-linecap="round" stroke-linejoin="round" stroke-opacity="0.8" fill="none"/><path d="M116 223 Q120 228 125 229" stroke="#e0e0e6" stroke-width="1.5" stroke-linecap="round" stroke-linejoin="round" stroke-opacity="0.7" fill="none"/>
</g>
<g clip-path="url(#c_lm)">
<rect x="195" y="137" width="122" height="123" fill="#8e95b0"/>
<g filter="url(#blur3)"><ellipse cx="290" cy="195" rx="15" ry="10" transform="rotate(0 290 195)" fill="#8a8290" fill-opacity="0.5"/><ellipse cx="230" cy="170" rx="20" ry="14" transform="rotate(0 230 170)" fill="#8e94b0" fill-opacity="0.4"/><ellipse cx="270" cy="240" rx="20" ry="12" transform="rotate(0 270 240)" fill="#8088a4" fill-opacity="0.4"/></g>
<rect x="195" y="137" width="122" height="123" fill="#000" filter="url(#f18)" opacity="0.75"/>
<rect x="195" y="137" width="122" height="123" fill="#000" filter="url(#f19)" opacity="0.7"/>
<path d="M250 190 Q262 178 280 182 Q292 186 298 191" stroke="#e0e0ea" stroke-width="0.9" stroke-linecap="round" stroke-linejoin="round" stroke-opacity="0.6" fill="none"/><path d="M282 196 Q290 192 300 196" stroke="#e8e8ee" stroke-width="0.9" stroke-linecap="round" stroke-linejoin="round" stroke-opacity="0.6" fill="none"/><ellipse cx="285" cy="196" rx="1.4" ry="1.1" transform="rotate(0 285 196)" fill="#6a4c44" fill-opacity="0.6"/><ellipse cx="290" cy="203" rx="1.4" ry="1.1" transform="rotate(0 290 203)" fill="#6a4c44" fill-opacity="0.6"/><ellipse cx="296" cy="199" rx="1.4" ry="1.1" transform="rotate(0 296 199)" fill="#6a4c44" fill-opacity="0.6"/><ellipse cx="300" cy="206" rx="1.4" ry="1.1" transform="rotate(0 300 206)" fill="#6a4c44" fill-opacity="0.6"/><ellipse cx="288" cy="212" rx="1.4" ry="1.1" transform="rotate(0 288 212)" fill="#6a4c44" fill-opacity="0.6"/><ellipse cx="305" cy="214" rx="1.4" ry="1.1" transform="rotate(0 305 214)" fill="#6a4c44" fill-opacity="0.6"/><ellipse cx="279" cy="238" rx="1.4" ry="1.1" transform="rotate(0 279 238)" fill="#6a4c44" fill-opacity="0.6"/><ellipse cx="289" cy="247" rx="1.4" ry="1.1" transform="rotate(0 289 247)" fill="#6a4c44" fill-opacity="0.6"/><ellipse cx="300" cy="232" rx="1.4" ry="1.1" transform="rotate(0 300 232)" fill="#6a4c44" fill-opacity="0.6"/><ellipse cx="265" cy="245" rx="1.4" ry="1.1" transform="rotate(0 265 245)" fill="#6a4c44" fill-opacity="0.6"/><ellipse cx="240" cy="235" rx="1.4" ry="1.1" transform="rotate(0 240 235)" fill="#6a4c44" fill-opacity="0.6"/><ellipse cx="230" cy="220" rx="1.4" ry="1.1" transform="rotate(0 230 220)" fill="#6a4c44" fill-opacity="0.6"/><ellipse cx="300" cy="180" rx="1.4" ry="1.1" transform="rotate(0 300 180)" fill="#6a4c44" fill-opacity="0.6"/><ellipse cx="308" cy="190" rx="1.4" ry="1.1" transform="rotate(0 308 190)" fill="#6a4c44" fill-opacity="0.6"/><ellipse cx="214" cy="195" rx="1.4" ry="1.1" transform="rotate(0 214 195)" fill="#6a4c44" fill-opacity="0.6"/><ellipse cx="225" cy="250" rx="1.4" ry="1.1" transform="rotate(0 225 250)" fill="#6a4c44" fill-opacity="0.6"/><ellipse cx="252" cy="215" rx="1.4" ry="1.1" transform="rotate(0 252 215)" fill="#6a4c44" fill-opacity="0.6"/><ellipse cx="270" cy="225" rx="1.4" ry="1.1" transform="rotate(0 270 225)" fill="#6a4c44" fill-opacity="0.6"/><ellipse cx="293" cy="193" rx="1.4" ry="1.1" transform="rotate(0 293 193)" fill="#6a4c44" fill-opacity="0.6"/><ellipse cx="281" cy="205" rx="1.4" ry="1.1" transform="rotate(0 281 205)" fill="#6a4c44" fill-opacity="0.6"/><ellipse cx="310" cy="200" rx="1.4" ry="1.1" transform="rotate(0 310 200)" fill="#6a4c44" fill-opacity="0.6"/><ellipse cx="246" cy="170" rx="1.4" ry="1.1" transform="rotate(0 246 170)" fill="#6a4c44" fill-opacity="0.6"/><ellipse cx="262" cy="160" rx="1.4" ry="1.1" transform="rotate(0 262 160)" fill="#6a4c44" fill-opacity="0.6"/><ellipse cx="275" cy="170" rx="1.4" ry="1.1" transform="rotate(0 275 170)" fill="#6a4c44" fill-opacity="0.6"/>
</g>
<g clip-path="url(#c_gm)">
<rect x="317" y="137" width="125" height="124" fill="#8a8aa0"/>
<g filter="url(#blur3)"></g>
<rect x="317" y="137" width="125" height="124" fill="#000" filter="url(#f20)" opacity="0.85"/>
<rect x="317" y="137" width="125" height="124" fill="#000" filter="url(#f21)" opacity="0.85"/>
<ellipse cx="354.9" cy="163.7" rx="14.4" ry="1.5" transform="rotate(-10.4 354.9 163.7)" fill="#86685c" fill-opacity="0.75"/><ellipse cx="353.8" cy="174.2" rx="26.8" ry="1.5" transform="rotate(-9.1 353.8 174.2)" fill="#86685c" fill-opacity="0.75"/><ellipse cx="354.9" cy="182.6" rx="36.9" ry="1.6" transform="rotate(-9.2 354.9 182.6)" fill="#86685c" fill-opacity="0.75"/><ellipse cx="411.6" cy="179.8" rx="19.8" ry="1.5" transform="rotate(-1.8 411.6 179.8)" fill="#86685c" fill-opacity="0.75"/><ellipse cx="358.2" cy="190.9" rx="24.3" ry="1.4" transform="rotate(-4.4 358.2 190.9)" fill="#86685c" fill-opacity="0.75"/><ellipse cx="386.0" cy="202.2" rx="32.8" ry="1.9" transform="rotate(-13.1 386.0 202.2)" fill="#86685c" fill-opacity="0.75"/><ellipse cx="330.4" cy="201.4" rx="8.0" ry="1.5" transform="rotate(-22.1 330.4 201.4)" fill="#86685c" fill-opacity="0.75"/><ellipse cx="386.0" cy="149.2" rx="10.5" ry="1.5" transform="rotate(-23.2 386.0 149.2)" fill="#86685c" fill-opacity="0.75"/><ellipse cx="401.6" cy="149.2" rx="9.8" ry="1.5" transform="rotate(-8.1 401.6 149.2)" fill="#86685c" fill-opacity="0.75"/><ellipse cx="381.6" cy="247.0" rx="15.5" ry="2.0" transform="rotate(-24.6 381.6 247.0)" fill="#86685c" fill-opacity="0.75"/><ellipse cx="424.9" cy="205.9" rx="8.7" ry="1.5" transform="rotate(0.0 424.9 205.9)" fill="#86685c" fill-opacity="0.75"/><ellipse cx="426.0" cy="222.6" rx="9.9" ry="1.5" transform="rotate(44.7 426.0 222.6)" fill="#86685c" fill-opacity="0.75"/><ellipse cx="360.4" cy="228" rx="5" ry="3.2" transform="rotate(20 360.4 228)" fill="#866452" fill-opacity="0.85"/>
</g>
<g clip-path="url(#c_om)">
<rect x="441" y="135" width="126" height="126" fill="#a9b0c6"/>
<g filter="url(#blur3)"><ellipse cx="470" cy="175" rx="14" ry="30" transform="rotate(35 470 175)" fill="#b0b6ca" fill-opacity="0.6"/><ellipse cx="530" cy="190" rx="8" ry="30" transform="rotate(0 530 190)" fill="#aab2c8" fill-opacity="0.5"/></g>
<rect x="441" y="135" width="126" height="126" fill="#000" filter="url(#f22)" opacity="0.5"/>
<rect x="441" y="135" width="126" height="126" fill="#000" filter="url(#f23)" opacity="0.6"/>
<path d="M491.1 142.7C492.0 140.5 494.5 138.9 497.8 138.2C501.1 137.4 507.8 137.4 511.1 138.2C514.4 138.9 516.9 140.8 517.8 142.7C518.7 144.5 517.5 147.3 516.7 149.3C516.0 151.3 515.0 153.4 513.3 154.9C511.6 156.4 509.3 157.8 506.7 158.2C504.1 158.6 500.2 158.2 497.8 157.1C495.4 156.0 493.3 154.0 492.2 151.6C491.1 149.2 490.2 144.9 491.1 142.7Z" fill="#4e4856" fill-opacity="0.92" stroke="#e6e4ea" stroke-width="0.9" stroke-opacity="0.7"/><path d="M513.0 150.0C514.5 148.2 519.3 149.5 521.0 152.0C522.7 154.5 523.2 160.3 523.0 165.0C522.8 169.7 521.7 177.8 520.0 180.0C518.3 182.2 514.3 180.8 513.0 178.0C511.7 175.2 512.0 167.7 512.0 163.0C512.0 158.3 511.5 151.8 513.0 150.0Z" fill="#4e4856" fill-opacity="0.92" stroke="#e6e4ea" stroke-width="0.9" stroke-opacity="0.7"/><path d="M444.4 176.0C445.8 171.4 448.7 167.3 452.0 164.0C455.3 160.7 461.2 156.6 464.4 156.0C467.6 155.4 471.5 156.3 471.1 160.4C470.7 164.5 465.2 173.7 462.2 180.4C459.2 187.1 455.9 196.0 453.3 200.4C450.7 204.8 448.4 208.6 446.7 207.1C445.0 205.6 443.7 196.8 443.3 191.6C442.9 186.4 442.9 180.6 444.4 176.0Z" fill="#4e4856" fill-opacity="0.92" stroke="#e6e4ea" stroke-width="0.9" stroke-opacity="0.7"/><path d="M462.2 178.2C463.9 175.6 469.2 176.2 473.3 176.0C477.4 175.8 483.0 176.0 486.7 177.1C490.4 178.2 492.7 180.3 495.6 182.7C498.6 185.1 502.5 188.6 504.4 191.6C506.2 194.6 507.4 197.8 506.7 200.4C506.0 203.0 502.6 206.3 500.0 207.1C497.4 207.8 493.7 206.0 491.1 204.9C488.5 203.8 486.6 200.8 484.4 200.4C482.2 200.0 480.4 201.9 477.8 202.7C475.2 203.4 471.5 205.3 468.9 204.9C466.3 204.5 463.1 202.6 462.2 200.4C461.3 198.2 463.3 195.3 463.3 191.6C463.3 187.9 460.5 180.8 462.2 178.2Z" fill="#4e4856" fill-opacity="0.92" stroke="#e6e4ea" stroke-width="0.9" stroke-opacity="0.7"/><path d="M485.6 164.9C487.1 162.9 492.1 162.0 495.6 161.6C499.1 161.2 503.4 161.8 506.7 162.7C510.0 163.6 514.5 164.9 515.6 167.1C516.7 169.3 515.2 174.0 513.3 176.0C511.4 178.0 507.7 178.9 504.4 179.3C501.1 179.7 496.2 179.1 493.3 178.2C490.4 177.3 488.0 176.0 486.7 173.8C485.4 171.6 484.1 166.9 485.6 164.9Z" fill="#4e4856" fill-opacity="0.92" stroke="#e6e4ea" stroke-width="0.9" stroke-opacity="0.7"/><path d="M504.4 180.4C507.0 176.5 513.7 178.2 517.8 179.3C521.9 180.4 525.9 183.6 528.9 187.1C531.9 190.6 534.1 195.9 535.6 200.4C537.1 204.9 538.2 209.7 537.8 213.8C537.4 217.9 535.5 222.3 533.3 224.9C531.1 227.5 527.3 229.3 524.4 229.3C521.5 229.3 518.6 227.5 515.6 224.9C512.6 222.3 508.9 217.5 506.7 213.8C504.5 210.1 502.6 208.3 502.2 202.7C501.8 197.1 501.8 184.3 504.4 180.4Z" fill="#4e4856" fill-opacity="0.92" stroke="#e6e4ea" stroke-width="0.9" stroke-opacity="0.7"/><path d="M535.6 160.4C537.3 158.4 543.4 156.3 546.7 157.1C550.0 157.8 553.4 161.8 555.6 164.9C557.8 168.1 559.6 172.7 560.0 176.0C560.4 179.3 559.6 183.4 557.8 184.9C555.9 186.4 551.9 186.0 548.9 184.9C545.9 183.8 542.0 180.8 540.0 178.2C538.0 175.6 537.4 172.3 536.7 169.3C536.0 166.3 533.9 162.4 535.6 160.4Z" fill="#4e4856" fill-opacity="0.92" stroke="#e6e4ea" stroke-width="0.9" stroke-opacity="0.7"/><path d="M540.0 186.0C541.5 183.8 548.3 184.0 551.1 184.9C553.9 185.8 556.0 189.0 556.7 191.6C557.5 194.2 556.9 198.6 555.6 200.4C554.3 202.2 551.1 203.1 548.9 202.7C546.7 202.3 543.7 201.0 542.2 198.2C540.7 195.4 538.5 188.2 540.0 186.0Z" fill="#4e4856" fill-opacity="0.92" stroke="#e6e4ea" stroke-width="0.9" stroke-opacity="0.7"/><path d="M453.3 220.4C455.9 217.8 460.3 215.3 464.4 213.8C468.5 212.3 473.0 211.8 477.8 211.6C482.6 211.4 488.5 211.6 493.3 212.7C498.1 213.8 504.1 215.4 506.7 218.2C509.3 221.0 509.3 225.6 508.9 229.3C508.5 233.0 506.6 237.4 504.4 240.4C502.2 243.4 498.9 244.9 495.6 247.1C492.3 249.3 488.1 252.7 484.4 253.8C480.7 254.9 477.0 254.9 473.3 253.8C469.6 252.7 465.5 249.7 462.2 247.1C458.9 244.5 455.5 241.2 453.3 238.2C451.1 235.2 448.9 232.3 448.9 229.3C448.9 226.3 450.7 223.0 453.3 220.4Z" fill="#4e4856" fill-opacity="0.92" stroke="#e6e4ea" stroke-width="0.9" stroke-opacity="0.7"/><path d="M533.3 213.8C534.8 211.2 542.2 211.2 546.7 211.6C551.2 212.0 557.8 213.8 560.0 216.0C562.2 218.2 561.5 222.7 560.0 224.9C558.5 227.1 554.8 228.9 551.1 229.3C547.4 229.7 540.8 229.7 537.8 227.1C534.8 224.5 531.8 216.4 533.3 213.8Z" fill="#4e4856" fill-opacity="0.92" stroke="#e6e4ea" stroke-width="0.9" stroke-opacity="0.7"/><path d="M513.3 224.9C515.5 222.3 521.1 222.0 524.4 222.7C527.7 223.4 531.8 226.0 533.3 229.3C534.8 232.6 534.0 238.6 533.3 242.7C532.6 246.8 531.1 251.4 528.9 253.8C526.7 256.2 522.6 257.5 520.0 257.1C517.4 256.7 514.8 254.8 513.3 251.6C511.8 248.4 511.1 242.6 511.1 238.2C511.1 233.8 511.1 227.5 513.3 224.9Z" fill="#4e4856" fill-opacity="0.92" stroke="#e6e4ea" stroke-width="0.9" stroke-opacity="0.7"/><path d="M527.0 160.0C527.0 156.7 531.2 152.0 533.0 152.0C534.8 152.0 538.0 156.7 538.0 160.0C538.0 163.3 534.8 172.0 533.0 172.0C531.2 172.0 527.0 163.3 527.0 160.0Z" fill="#4e4856" fill-opacity="0.92" stroke="#e6e4ea" stroke-width="0.9" stroke-opacity="0.7"/><rect x="440" y="10" width="127" height="255" fill="#000" filter="url(#f2)" opacity="0.9" clip-path="url(#pp_om)"/><rect x="440" y="10" width="127" height="255" fill="#000" filter="url(#f3)" opacity="0.75" clip-path="url(#pp_om)"/><g opacity="0.55"><path d="M495 150 Q505 146 512 150" stroke="#e8e4e4" stroke-width="1.2" stroke-linecap="round" stroke-linejoin="round" stroke-opacity="0.8" fill="none"/><path d="M470 196 Q480 190 492 196" stroke="#e8e4e4" stroke-width="1.2" stroke-linecap="round" stroke-linejoin="round" stroke-opacity="0.8" fill="none"/><path d="M468 238 Q480 230 494 238" stroke="#e0dcdc" stroke-width="1.2" stroke-linecap="round" stroke-linejoin="round" stroke-opacity="0.7" fill="none"/><path d="M515 195 Q522 208 522 222" stroke="#e0dcdc" stroke-width="1.2" stroke-linecap="round" stroke-linejoin="round" stroke-opacity="0.7" fill="none"/><path d="M452 175 L458 190" stroke="#e0dcdc" stroke-width="1.0" stroke-linecap="round" stroke-linejoin="round" stroke-opacity="0.7" fill="none"/><path d="M540 168 Q548 172 553 180" stroke="#e0dcdc" stroke-width="1.0" stroke-linecap="round" stroke-linejoin="round" stroke-opacity="0.7" fill="none"/><path d="M478 222 Q488 224 498 232" stroke="#e0dcdc" stroke-width="1.0" stroke-linecap="round" stroke-linejoin="round" stroke-opacity="0.7" fill="none"/><path d="M518 235 L524 250" stroke="#e0dcdc" stroke-width="1.0" stroke-linecap="round" stroke-linejoin="round" stroke-opacity="0.7" fill="none"/></g>
</g>
<text x="40.0" y="12.0" font-size="19" text-anchor="start" fill="#000" font-weight="bold" >a</text>
<text x="132.5" y="10.2" font-size="11.3" text-anchor="middle" fill="#000" font-weight="normal" >Breast cancer</text>
<text x="255.6" y="10.2" font-size="11.3" text-anchor="middle" fill="#000" font-weight="normal" >Lung cancer</text>
<text x="378.7" y="10.2" font-size="11.3" text-anchor="middle" fill="#000" font-weight="normal" >Gastric cancer</text>
<text x="503.0" y="10.2" font-size="11.3" text-anchor="middle" fill="#000" font-weight="normal" >Ovarian cancer</text>
<text x="69.3" y="81.4" font-size="16.7" text-anchor="end" fill="#000" font-weight="normal" >CD73 (+)</text>
<text x="69.3" y="203.7" font-size="16.8" text-anchor="end" fill="#000" font-weight="normal" >CD73 (-)</text>
<rect x="72.5" y="261.2" width="220.0" height="176.3" fill="#fff" stroke="#858585" stroke-width="1.05"/>
<line x1="72.5" y1="437.5" x2="72.5" y2="441.8" stroke="#555" stroke-width="0.9"/>
<text x="72.5" y="451.9" font-size="6.5" text-anchor="middle" fill="#000" font-weight="normal" >0</text>
<line x1="109.4" y1="437.5" x2="109.4" y2="441.8" stroke="#555" stroke-width="0.9"/>
<text x="109.4" y="451.9" font-size="6.5" text-anchor="middle" fill="#000" font-weight="normal" >50</text>
<line x1="146.4" y1="437.5" x2="146.4" y2="441.8" stroke="#555" stroke-width="0.9"/>
<text x="146.4" y="451.9" font-size="6.5" text-anchor="middle" fill="#000" font-weight="normal" >100</text>
<line x1="183.3" y1="437.5" x2="183.3" y2="441.8" stroke="#555" stroke-width="0.9"/>
<text x="183.3" y="451.9" font-size="6.5" text-anchor="middle" fill="#000" font-weight="normal" >150</text>
<line x1="220.2" y1="437.5" x2="220.2" y2="441.8" stroke="#555" stroke-width="0.9"/>
<text x="220.2" y="451.9" font-size="6.5" text-anchor="middle" fill="#000" font-weight="normal" >200</text>
<line x1="257.2" y1="437.5" x2="257.2" y2="441.8" stroke="#555" stroke-width="0.9"/>
<text x="257.2" y="451.9" font-size="6.5" text-anchor="middle" fill="#000" font-weight="normal" >250</text>
<line x1="68.2" y1="431.1" x2="72.5" y2="431.1" stroke="#555" stroke-width="0.9"/>
<text transform="translate(63.9,431.1) rotate(-90)" font-size="6.5" text-anchor="middle" fill="#000">0.0</text>
<line x1="68.2" y1="398.3" x2="72.5" y2="398.3" stroke="#555" stroke-width="0.9"/>
<text transform="translate(63.9,398.3) rotate(-90)" font-size="6.5" text-anchor="middle" fill="#000">0.2</text>
<line x1="68.2" y1="365.6" x2="72.5" y2="365.6" stroke="#555" stroke-width="0.9"/>
<text transform="translate(63.9,365.6) rotate(-90)" font-size="6.5" text-anchor="middle" fill="#000">0.4</text>
<line x1="68.2" y1="332.8" x2="72.5" y2="332.8" stroke="#555" stroke-width="0.9"/>
<text transform="translate(63.9,332.8) rotate(-90)" font-size="6.5" text-anchor="middle" fill="#000">0.6</text>
<line x1="68.2" y1="300.1" x2="72.5" y2="300.1" stroke="#555" stroke-width="0.9"/>
<text transform="translate(63.9,300.1) rotate(-90)" font-size="6.5" text-anchor="middle" fill="#000">0.8</text>
<line x1="68.2" y1="267.3" x2="72.5" y2="267.3" stroke="#555" stroke-width="0.9"/>
<text transform="translate(63.9,267.3) rotate(-90)" font-size="6.5" text-anchor="middle" fill="#000">1.0</text>
<text transform="translate(48.5,349.2) rotate(-90)" font-size="6.3" text-anchor="middle" fill="#000">Probability</text>
<text x="182.5" y="466.5" font-size="6.3" text-anchor="middle" fill="#000" font-weight="normal" >Time (months)</text>
<text x="287.9" y="271.8" font-size="6.4" text-anchor="end" fill="#000" font-weight="normal" >HR = 1.23 (1.11 − 1.38)</text>
<text x="287.9" y="279.6" font-size="6.4" text-anchor="end" fill="#000" font-weight="normal" >logrank P = 0.00015</text>
<text x="76.2" y="415.4" font-size="6.4" text-anchor="start" fill="#000" font-weight="normal" >Expression</text>
<line x1="78.5" y1="422.7" x2="90.0" y2="422.7" stroke="#444" stroke-width="0.8"/>
<line x1="78.5" y1="430.5" x2="90.0" y2="430.5" stroke="#e4464a" stroke-width="0.8"/>
<text x="95.6" y="425.0" font-size="6.4" text-anchor="start" fill="#000" font-weight="normal" >low</text>
<text x="95.6" y="432.8" font-size="6.4" text-anchor="start" fill="#000" font-weight="normal" >high</text>
<text x="73.0" y="474.9" font-size="6.3" text-anchor="start" fill="#000" font-weight="normal" >Number at risk</text>
<text x="72.5" y="482.2" font-size="6.4" text-anchor="middle" fill="#000" font-weight="normal" >1978</text>
<text x="72.5" y="490.0" font-size="6.4" text-anchor="middle" fill="#dc1a1e" font-weight="normal" >1973</text>
<text x="109.4" y="482.2" font-size="6.4" text-anchor="middle" fill="#000" font-weight="normal" >1345</text>
<text x="109.4" y="490.0" font-size="6.4" text-anchor="middle" fill="#dc1a1e" font-weight="normal" >1174</text>
<text x="146.4" y="482.2" font-size="6.4" text-anchor="middle" fill="#000" font-weight="normal" >626</text>
<text x="146.4" y="490.0" font-size="6.4" text-anchor="middle" fill="#dc1a1e" font-weight="normal" >449</text>
<text x="183.3" y="482.2" font-size="6.4" text-anchor="middle" fill="#000" font-weight="normal" >144</text>
<text x="183.3" y="490.0" font-size="6.4" text-anchor="middle" fill="#dc1a1e" font-weight="normal" >97</text>
<text x="220.2" y="482.2" font-size="6.4" text-anchor="middle" fill="#000" font-weight="normal" >17</text>
<text x="220.2" y="490.0" font-size="6.4" text-anchor="middle" fill="#dc1a1e" font-weight="normal" >10</text>
<text x="257.2" y="482.2" font-size="6.4" text-anchor="middle" fill="#000" font-weight="normal" >2</text>
<text x="257.2" y="490.0" font-size="6.4" text-anchor="middle" fill="#dc1a1e" font-weight="normal" >1</text>
<text x="63.1" y="482.2" font-size="6.4" text-anchor="end" fill="#000" font-weight="normal" >low</text>
<text x="63.1" y="490.0" font-size="6.4" text-anchor="end" fill="#dc1a1e" font-weight="normal" >high</text>
<clipPath id="clipb"><rect x="72.5" y="261.2" width="220.0" height="176.3"/></clipPath>
<g clip-path="url(#clipb)">
<polyline points="72.6,267.6 76.3,269.9 80.6,274.2 85.9,282.1 91.2,287.4 96.5,292.7 101.7,298.0 107.0,302.2 112.3,305.4 117.6,308.6 122.9,310.7 129.3,313.9 137.9,317.2 147.6,320.1 157.3,324.0 167.0,326.5 170.0,327.6 181.0,330.4 190.0,331.8 193.2,335.5 199.5,337.2 207.0,338.5 209.5,341.4 224.0,341.4" fill="none" stroke="#000" stroke-width="3.8" stroke-linejoin="round" stroke-linecap="butt" />
<polyline points="224.0,341.4 231.7,341.4 231.7,352.9 241.0,352.9 241.0,368.8 284.6,368.8" fill="none" stroke="#000" stroke-width="0.9" stroke-linejoin="round" stroke-linecap="butt" />
<path d="M224.4 339.1V343.7M222.1 341.4H226.7" stroke="#000" stroke-width="0.85" fill="none"/>
<path d="M230.7 339.1V343.7M228.4 341.4H233.0" stroke="#000" stroke-width="0.85" fill="none"/>
<path d="M236.6 350.6V355.2M234.3 352.9H238.9" stroke="#000" stroke-width="0.85" fill="none"/>
<path d="M240.8 350.6V355.2M238.5 352.9H243.1" stroke="#000" stroke-width="0.85" fill="none"/>
<path d="M248.0 366.5V371.1M245.7 368.8H250.3" stroke="#000" stroke-width="0.85" fill="none"/>
<path d="M250.0 366.5V371.1M247.7 368.8H252.3" stroke="#000" stroke-width="0.85" fill="none"/>
<path d="M262.0 366.5V371.1M259.7 368.8H264.3" stroke="#000" stroke-width="0.85" fill="none"/>
<path d="M283.0 366.5V371.1M280.7 368.8H285.3" stroke="#000" stroke-width="0.85" fill="none"/>
<polyline points="72.6,268.4 76.3,271.5 80.6,276.8 83.8,283.2 86.9,288.5 91.2,294.8 96.5,301.2 101.7,306.4 107.0,311.7 112.3,314.9 117.6,318.1 125.0,320.7 128.2,322.0 137.9,326.0 147.6,328.3 157.3,332.7 167.0,336.6 170.0,337.5 178.6,340.5 181.0,340.8 187.6,344.1" fill="none" stroke="#dc1a1e" stroke-width="3.6" stroke-linejoin="round" stroke-linecap="butt" />
<polyline points="187.6,344.1 198.7,346.3 206.0,347.5 211.7,348.0 212.8,350.4" fill="none" stroke="#dc1a1e" stroke-width="2.2" stroke-linejoin="round" stroke-linecap="butt" />
<polyline points="212.8,350.4 278.0,350.4" fill="none" stroke="#dc1a1e" stroke-width="0.9" stroke-linejoin="round" stroke-linecap="butt" />
<path d="M203.8 344.8V349.4M201.5 347.1H206.1" stroke="#dc1a1e" stroke-width="0.85" fill="none"/>
<path d="M206.4 345.2V349.8M204.1 347.5H208.7" stroke="#dc1a1e" stroke-width="0.85" fill="none"/>
<path d="M210.1 345.6V350.2M207.8 347.9H212.4" stroke="#dc1a1e" stroke-width="0.85" fill="none"/>
<path d="M214.3 348.1V352.7M212.0 350.4H216.6" stroke="#dc1a1e" stroke-width="0.85" fill="none"/>
<path d="M216.4 348.1V352.7M214.1 350.4H218.7" stroke="#dc1a1e" stroke-width="0.85" fill="none"/>
<path d="M218.6 348.1V352.7M216.3 350.4H220.9" stroke="#dc1a1e" stroke-width="0.85" fill="none"/>
<path d="M220.7 348.1V352.7M218.4 350.4H223.0" stroke="#dc1a1e" stroke-width="0.85" fill="none"/>
<path d="M222.8 348.1V352.7M220.5 350.4H225.1" stroke="#dc1a1e" stroke-width="0.85" fill="none"/>
<path d="M225.0 348.1V352.7M222.7 350.4H227.3" stroke="#dc1a1e" stroke-width="0.85" fill="none"/>
<path d="M230.2 348.1V352.7M227.9 350.4H232.5" stroke="#dc1a1e" stroke-width="0.85" fill="none"/>
<path d="M236.6 348.1V352.7M234.3 350.4H238.9" stroke="#dc1a1e" stroke-width="0.85" fill="none"/>
<path d="M240.8 348.1V352.7M238.5 350.4H243.1" stroke="#dc1a1e" stroke-width="0.85" fill="none"/>
<path d="M244.5 348.1V352.7M242.2 350.4H246.8" stroke="#dc1a1e" stroke-width="0.85" fill="none"/>
<path d="M277.0 348.1V352.7M274.7 350.4H279.3" stroke="#dc1a1e" stroke-width="0.85" fill="none"/>
</g>
<text x="38.8" y="275.8" font-size="19" text-anchor="start" fill="#000" font-weight="bold" >b</text>
<rect x="336.2" y="259.9" width="219.3" height="177.10000000000002" fill="#fff" stroke="#858585" stroke-width="1.05"/>
<line x1="336.2" y1="437.0" x2="336.2" y2="441.3" stroke="#555" stroke-width="0.9"/>
<text x="336.2" y="451.4" font-size="6.5" text-anchor="middle" fill="#000" font-weight="normal" >0</text>
<line x1="380.4" y1="437.0" x2="380.4" y2="441.3" stroke="#555" stroke-width="0.9"/>
<text x="380.4" y="451.4" font-size="6.5" text-anchor="middle" fill="#000" font-weight="normal" >50</text>
<line x1="424.6" y1="437.0" x2="424.6" y2="441.3" stroke="#555" stroke-width="0.9"/>
<text x="424.6" y="451.4" font-size="6.5" text-anchor="middle" fill="#000" font-weight="normal" >100</text>
<line x1="468.8" y1="437.0" x2="468.8" y2="441.3" stroke="#555" stroke-width="0.9"/>
<text x="468.8" y="451.4" font-size="6.5" text-anchor="middle" fill="#000" font-weight="normal" >150</text>
<line x1="513.0" y1="437.0" x2="513.0" y2="441.3" stroke="#555" stroke-width="0.9"/>
<text x="513.0" y="451.4" font-size="6.5" text-anchor="middle" fill="#000" font-weight="normal" >200</text>
<line x1="331.9" y1="431.1" x2="336.2" y2="431.1" stroke="#555" stroke-width="0.9"/>
<text transform="translate(327.6,431.1) rotate(-90)" font-size="6.5" text-anchor="middle" fill="#000">0.0</text>
<line x1="331.9" y1="398.2" x2="336.2" y2="398.2" stroke="#555" stroke-width="0.9"/>
<text transform="translate(327.6,398.2) rotate(-90)" font-size="6.5" text-anchor="middle" fill="#000">0.2</text>
<line x1="331.9" y1="365.3" x2="336.2" y2="365.3" stroke="#555" stroke-width="0.9"/>
<text transform="translate(327.6,365.3) rotate(-90)" font-size="6.5" text-anchor="middle" fill="#000">0.4</text>
<line x1="331.9" y1="332.3" x2="336.2" y2="332.3" stroke="#555" stroke-width="0.9"/>
<text transform="translate(327.6,332.3) rotate(-90)" font-size="6.5" text-anchor="middle" fill="#000">0.6</text>
<line x1="331.9" y1="299.4" x2="336.2" y2="299.4" stroke="#555" stroke-width="0.9"/>
<text transform="translate(327.6,299.4) rotate(-90)" font-size="6.5" text-anchor="middle" fill="#000">0.8</text>
<line x1="331.9" y1="266.5" x2="336.2" y2="266.5" stroke="#555" stroke-width="0.9"/>
<text transform="translate(327.6,266.5) rotate(-90)" font-size="6.5" text-anchor="middle" fill="#000">1.0</text>
<text transform="translate(312.2,348.8) rotate(-90)" font-size="6.3" text-anchor="middle" fill="#000">Probability</text>
<text x="445.9" y="466.0" font-size="6.3" text-anchor="middle" fill="#000" font-weight="normal" >Time (months)</text>
<text x="551.5" y="270.5" font-size="6.4" text-anchor="end" fill="#000" font-weight="normal" >HR = 0.8 (0.71 − 0.91)</text>
<text x="551.5" y="278.3" font-size="6.4" text-anchor="end" fill="#000" font-weight="normal" >logrank P = 0.00069</text>
<text x="339.5" y="415.2" font-size="6.4" text-anchor="start" fill="#000" font-weight="normal" >Expression</text>
<line x1="341.8" y1="422.5" x2="353.3" y2="422.5" stroke="#444" stroke-width="0.8"/>
<line x1="341.8" y1="430.3" x2="353.3" y2="430.3" stroke="#e4464a" stroke-width="0.8"/>
<text x="358.9" y="424.8" font-size="6.4" text-anchor="start" fill="#000" font-weight="normal" >low</text>
<text x="358.9" y="432.6" font-size="6.4" text-anchor="start" fill="#000" font-weight="normal" >high</text>
<text x="336.7" y="474.7" font-size="6.3" text-anchor="start" fill="#000" font-weight="normal" >Number at risk</text>
<text x="336.2" y="482.0" font-size="6.4" text-anchor="middle" fill="#000" font-weight="normal" >964</text>
<text x="336.2" y="489.8" font-size="6.4" text-anchor="middle" fill="#dc1a1e" font-weight="normal" >964</text>
<text x="380.4" y="482.0" font-size="6.4" text-anchor="middle" fill="#000" font-weight="normal" >376</text>
<text x="380.4" y="489.8" font-size="6.4" text-anchor="middle" fill="#dc1a1e" font-weight="normal" >453</text>
<text x="424.6" y="482.0" font-size="6.4" text-anchor="middle" fill="#000" font-weight="normal" >95</text>
<text x="424.6" y="489.8" font-size="6.4" text-anchor="middle" fill="#dc1a1e" font-weight="normal" >108</text>
<text x="468.8" y="482.0" font-size="6.4" text-anchor="middle" fill="#000" font-weight="normal" >29</text>
<text x="468.8" y="489.8" font-size="6.4" text-anchor="middle" fill="#dc1a1e" font-weight="normal" >28</text>
<text x="513.0" y="482.0" font-size="6.4" text-anchor="middle" fill="#000" font-weight="normal" >4</text>
<text x="513.0" y="489.8" font-size="6.4" text-anchor="middle" fill="#dc1a1e" font-weight="normal" >3</text>
<text x="326.8" y="482.0" font-size="6.4" text-anchor="end" fill="#000" font-weight="normal" >low</text>
<text x="326.8" y="489.8" font-size="6.4" text-anchor="end" fill="#dc1a1e" font-weight="normal" >high</text>
<clipPath id="clipc"><rect x="336.2" y="259.9" width="219.3" height="177.10000000000002"/></clipPath>
<g clip-path="url(#clipc)">
<polyline points="336.2,266.5 340.0,276.0 344.7,287.2 349.0,298.0 354.4,309.5 359.0,318.0 364.1,326.0 369.0,332.0 373.8,337.6 383.5,346.3 393.2,353.1 402.9,359.9 410.0,364.4 416.5,367.7 423.2,372.3 436.5,378.9 445.0,382.2 451.3,386.5 457.7,389.6 463.0,391.2" fill="none" stroke="#000" stroke-width="2.8" stroke-linejoin="round" stroke-linecap="butt" />
<polyline points="463.0,391.2 491.6,391.2 491.6,394.9 494.7,394.9 494.7,399.3 517.1,399.3 517.1,409.9 538.8,409.9 538.8,430.5" fill="none" stroke="#000" stroke-width="0.9" stroke-linejoin="round" stroke-linecap="butt" />
<path d="M463.5 388.9V393.5M461.2 391.2H465.8" stroke="#000" stroke-width="0.85" fill="none"/>
<path d="M469.3 388.9V393.5M467.0 391.2H471.6" stroke="#000" stroke-width="0.85" fill="none"/>
<path d="M472.0 388.9V393.5M469.7 391.2H474.3" stroke="#000" stroke-width="0.85" fill="none"/>
<path d="M474.1 388.9V393.5M471.8 391.2H476.4" stroke="#000" stroke-width="0.85" fill="none"/>
<path d="M476.7 388.9V393.5M474.4 391.2H479.0" stroke="#000" stroke-width="0.85" fill="none"/>
<path d="M478.9 388.9V393.5M476.6 391.2H481.2" stroke="#000" stroke-width="0.85" fill="none"/>
<path d="M481.0 388.9V393.5M478.7 391.2H483.3" stroke="#000" stroke-width="0.85" fill="none"/>
<path d="M483.1 388.9V393.5M480.8 391.2H485.4" stroke="#000" stroke-width="0.85" fill="none"/>
<path d="M485.2 388.9V393.5M482.9 391.2H487.5" stroke="#000" stroke-width="0.85" fill="none"/>
<path d="M490.5 388.9V393.5M488.2 391.2H492.8" stroke="#000" stroke-width="0.85" fill="none"/>
<path d="M496.9 397.0V401.6M494.6 399.3H499.2" stroke="#000" stroke-width="0.85" fill="none"/>
<path d="M499.0 397.0V401.6M496.7 399.3H501.3" stroke="#000" stroke-width="0.85" fill="none"/>
<path d="M501.1 397.0V401.6M498.8 399.3H503.4" stroke="#000" stroke-width="0.85" fill="none"/>
<path d="M503.2 397.0V401.6M500.9 399.3H505.5" stroke="#000" stroke-width="0.85" fill="none"/>
<path d="M529.6 407.6V412.2M527.3 409.9H531.9" stroke="#000" stroke-width="0.85" fill="none"/>
<polyline points="336.2,266.5 338.5,271.0 340.8,276.5 344.7,285.2 349.0,295.0 354.4,304.6 359.0,310.5 364.1,315.3 369.0,320.0 373.8,324.0 383.5,331.8 393.2,336.6 402.9,345.4 410.0,349.8 422.3,355.0 432.0,358.9 436.5,361.7 445.0,367.9 449.2,371.6" fill="none" stroke="#dc1a1e" stroke-width="2.8" stroke-linejoin="round" stroke-linecap="butt" />
<polyline points="449.2,371.6 453.5,375.3 455.0,378.5 470.0,378.5 470.0,380.1 475.7,380.1 475.7,382.8 491.0,382.8 491.0,388.0 494.7,388.0 494.7,394.4 547.6,394.4" fill="none" stroke="#dc1a1e" stroke-width="0.9" stroke-linejoin="round" stroke-linecap="butt" />
<path d="M451.0 370.8V375.4M448.7 373.1H453.3" stroke="#dc1a1e" stroke-width="0.85" fill="none"/>
<path d="M453.0 372.6V377.2M450.7 374.9H455.3" stroke="#dc1a1e" stroke-width="0.85" fill="none"/>
<path d="M457.7 376.2V380.8M455.4 378.5H460.0" stroke="#dc1a1e" stroke-width="0.85" fill="none"/>
<path d="M460.9 376.2V380.8M458.6 378.5H463.2" stroke="#dc1a1e" stroke-width="0.85" fill="none"/>
<path d="M465.1 376.2V380.8M462.8 378.5H467.4" stroke="#dc1a1e" stroke-width="0.85" fill="none"/>
<path d="M470.4 377.8V382.4M468.1 380.1H472.7" stroke="#dc1a1e" stroke-width="0.85" fill="none"/>
<path d="M472.5 377.8V382.4M470.2 380.1H474.8" stroke="#dc1a1e" stroke-width="0.85" fill="none"/>
<path d="M474.6 377.8V382.4M472.3 380.1H476.9" stroke="#dc1a1e" stroke-width="0.85" fill="none"/>
<path d="M476.7 380.5V385.1M474.4 382.8H479.0" stroke="#dc1a1e" stroke-width="0.85" fill="none"/>
<path d="M478.9 380.5V385.1M476.6 382.8H481.2" stroke="#dc1a1e" stroke-width="0.85" fill="none"/>
<path d="M484.2 380.5V385.1M481.9 382.8H486.5" stroke="#dc1a1e" stroke-width="0.85" fill="none"/>
<path d="M488.4 380.5V385.1M486.1 382.8H490.7" stroke="#dc1a1e" stroke-width="0.85" fill="none"/>
<path d="M497.0 392.1V396.7M494.7 394.4H499.3" stroke="#dc1a1e" stroke-width="0.85" fill="none"/>
<path d="M507.9 392.1V396.7M505.6 394.4H510.2" stroke="#dc1a1e" stroke-width="0.85" fill="none"/>
<path d="M510.5 392.1V396.7M508.2 394.4H512.8" stroke="#dc1a1e" stroke-width="0.85" fill="none"/>
<path d="M523.8 392.1V396.7M521.5 394.4H526.1" stroke="#dc1a1e" stroke-width="0.85" fill="none"/>
<path d="M533.0 392.1V396.7M530.7 394.4H535.3" stroke="#dc1a1e" stroke-width="0.85" fill="none"/>
<path d="M547.6 392.1V396.7M545.3 394.4H549.9" stroke="#dc1a1e" stroke-width="0.85" fill="none"/>
</g>
<text x="303.3" y="275.2" font-size="19" text-anchor="start" fill="#000" font-weight="bold" >c</text>
<rect x="72.4" y="494.2" width="219.99999999999997" height="176.8" fill="#fff" stroke="#858585" stroke-width="1.05"/>
<line x1="72.4" y1="671.0" x2="72.4" y2="675.3" stroke="#555" stroke-width="0.9"/>
<text x="72.4" y="685.4" font-size="6.5" text-anchor="middle" fill="#000" font-weight="normal" >0</text>
<line x1="141.9" y1="671.0" x2="141.9" y2="675.3" stroke="#555" stroke-width="0.9"/>
<text x="141.9" y="685.4" font-size="6.5" text-anchor="middle" fill="#000" font-weight="normal" >50</text>
<line x1="211.4" y1="671.0" x2="211.4" y2="675.3" stroke="#555" stroke-width="0.9"/>
<text x="211.4" y="685.4" font-size="6.5" text-anchor="middle" fill="#000" font-weight="normal" >100</text>
<line x1="280.9" y1="671.0" x2="280.9" y2="675.3" stroke="#555" stroke-width="0.9"/>
<text x="280.9" y="685.4" font-size="6.5" text-anchor="middle" fill="#000" font-weight="normal" >150</text>
<line x1="68.10000000000001" y1="664.8" x2="72.4" y2="664.8" stroke="#555" stroke-width="0.9"/>
<text transform="translate(63.8,664.8) rotate(-90)" font-size="6.5" text-anchor="middle" fill="#000">0.0</text>
<line x1="68.10000000000001" y1="631.9" x2="72.4" y2="631.9" stroke="#555" stroke-width="0.9"/>
<text transform="translate(63.8,631.9) rotate(-90)" font-size="6.5" text-anchor="middle" fill="#000">0.2</text>
<line x1="68.10000000000001" y1="599.0" x2="72.4" y2="599.0" stroke="#555" stroke-width="0.9"/>
<text transform="translate(63.8,599.0) rotate(-90)" font-size="6.5" text-anchor="middle" fill="#000">0.4</text>
<line x1="68.10000000000001" y1="566.0" x2="72.4" y2="566.0" stroke="#555" stroke-width="0.9"/>
<text transform="translate(63.8,566.0) rotate(-90)" font-size="6.5" text-anchor="middle" fill="#000">0.6</text>
<line x1="68.10000000000001" y1="533.1" x2="72.4" y2="533.1" stroke="#555" stroke-width="0.9"/>
<text transform="translate(63.8,533.1) rotate(-90)" font-size="6.5" text-anchor="middle" fill="#000">0.8</text>
<line x1="68.10000000000001" y1="500.2" x2="72.4" y2="500.2" stroke="#555" stroke-width="0.9"/>
<text transform="translate(63.8,500.2) rotate(-90)" font-size="6.5" text-anchor="middle" fill="#000">1.0</text>
<text transform="translate(48.4,582.5) rotate(-90)" font-size="6.3" text-anchor="middle" fill="#000">Probability</text>
<text x="182.4" y="700.0" font-size="6.3" text-anchor="middle" fill="#000" font-weight="normal" >Time (months)</text>
<text x="287.9" y="504.8" font-size="6.4" text-anchor="end" fill="#000" font-weight="normal" >HR = 0.71 (0.6 − 0.84)</text>
<text x="287.9" y="512.6" font-size="6.4" text-anchor="end" fill="#000" font-weight="normal" >logrank P = 8.2e−05</text>
<text x="76.0" y="649.0" font-size="6.4" text-anchor="start" fill="#000" font-weight="normal" >Expression</text>
<line x1="78.3" y1="656.3" x2="89.8" y2="656.3" stroke="#444" stroke-width="0.8"/>
<line x1="78.3" y1="664.1" x2="89.8" y2="664.1" stroke="#e4464a" stroke-width="0.8"/>
<text x="95.4" y="658.6" font-size="6.4" text-anchor="start" fill="#000" font-weight="normal" >low</text>
<text x="95.4" y="666.4" font-size="6.4" text-anchor="start" fill="#000" font-weight="normal" >high</text>
<text x="72.9" y="708.5" font-size="6.3" text-anchor="start" fill="#000" font-weight="normal" >Number at risk</text>
<text x="72.4" y="715.8" font-size="6.4" text-anchor="middle" fill="#000" font-weight="normal" >452</text>
<text x="72.4" y="723.6" font-size="6.4" text-anchor="middle" fill="#dc1a1e" font-weight="normal" >424</text>
<text x="141.9" y="715.8" font-size="6.4" text-anchor="middle" fill="#000" font-weight="normal" >133</text>
<text x="141.9" y="723.6" font-size="6.4" text-anchor="middle" fill="#dc1a1e" font-weight="normal" >165</text>
<text x="211.4" y="715.8" font-size="6.4" text-anchor="middle" fill="#000" font-weight="normal" >21</text>
<text x="211.4" y="723.6" font-size="6.4" text-anchor="middle" fill="#dc1a1e" font-weight="normal" >27</text>
<text x="280.9" y="715.8" font-size="6.4" text-anchor="middle" fill="#000" font-weight="normal" >0</text>
<text x="280.9" y="723.6" font-size="6.4" text-anchor="middle" fill="#dc1a1e" font-weight="normal" >1</text>
<text x="63.0" y="715.8" font-size="6.4" text-anchor="end" fill="#000" font-weight="normal" >low</text>
<text x="63.0" y="723.6" font-size="6.4" text-anchor="end" fill="#dc1a1e" font-weight="normal" >high</text>
<clipPath id="clipd"><rect x="72.4" y="494.2" width="219.99999999999997" height="176.8"/></clipPath>
<g clip-path="url(#clipd)">
<polyline points="72.4,500.3 74.0,502.5 75.8,507.4 79.1,514.8 80.7,519.8 82.4,528.0 84.5,540.5 86.5,544.6 89.8,552.9 95.4,565.5 101.7,575.4 108.1,583.9 114.4,595.5 122.9,601.9 133.5,607.2 144.1,609.3 154.7,611.0 165.2,612.3 180.0,614.0 190.6,616.1 201.2,617.6 210.7,618.2 212.8,620.3 221.3,620.3 223.4,622.4 228.7,623.1 229.7,626.2 243.5,626.2 244.6,632.0 278.4,632.0" fill="none" stroke="#000" stroke-width="1.0" stroke-linejoin="round" stroke-linecap="butt" />
<path d="M75.8 505.1V509.7M73.5 507.4H78.1" stroke="#000" stroke-width="0.85" fill="none"/>
<path d="M79.1 512.5V517.1M76.8 514.8H81.4" stroke="#000" stroke-width="0.85" fill="none"/>
<path d="M81.0 518.9V523.5M78.7 521.2H83.3" stroke="#000" stroke-width="0.85" fill="none"/>
<path d="M83.5 532.2V536.8M81.2 534.5H85.8" stroke="#000" stroke-width="0.85" fill="none"/>
<path d="M85.0 539.2V543.8M82.7 541.5H87.3" stroke="#000" stroke-width="0.85" fill="none"/>
<path d="M86.5 542.3V546.9M84.2 544.6H88.8" stroke="#000" stroke-width="0.85" fill="none"/>
<path d="M88.5 547.3V551.9M86.2 549.6H90.8" stroke="#000" stroke-width="0.85" fill="none"/>
<path d="M97.0 565.7V570.3M94.7 568.0H99.3" stroke="#000" stroke-width="0.85" fill="none"/>
<path d="M99.9 570.3V574.9M97.6 572.6H102.2" stroke="#000" stroke-width="0.85" fill="none"/>
<path d="M103.0 574.8V579.4M100.7 577.1H105.3" stroke="#000" stroke-width="0.85" fill="none"/>
<path d="M106.9 580.0V584.6M104.6 582.3H109.2" stroke="#000" stroke-width="0.85" fill="none"/>
<path d="M112.6 589.9V594.5M110.3 592.2H114.9" stroke="#000" stroke-width="0.85" fill="none"/>
<path d="M116.1 594.5V599.1M113.8 596.8H118.4" stroke="#000" stroke-width="0.85" fill="none"/>
<path d="M119.6 597.1V601.7M117.3 599.4H121.9" stroke="#000" stroke-width="0.85" fill="none"/>
<path d="M123.1 599.7V604.3M120.8 602.0H125.4" stroke="#000" stroke-width="0.85" fill="none"/>
<path d="M128.1 602.2V606.8M125.8 604.5H130.4" stroke="#000" stroke-width="0.85" fill="none"/>
<path d="M133.0 604.7V609.2M130.7 607.0H135.3" stroke="#000" stroke-width="0.85" fill="none"/>
<path d="M138.0 605.8V610.4M135.7 608.1H140.3" stroke="#000" stroke-width="0.85" fill="none"/>
<path d="M140.8 606.3V610.9M138.5 608.6H143.1" stroke="#000" stroke-width="0.85" fill="none"/>
<path d="M142.5 606.7V611.3M140.2 609.0H144.8" stroke="#000" stroke-width="0.85" fill="none"/>
<path d="M144.3 607.0V611.6M142.0 609.3H146.6" stroke="#000" stroke-width="0.85" fill="none"/>
<path d="M145.5 607.2V611.8M143.2 609.5H147.8" stroke="#000" stroke-width="0.85" fill="none"/>
<path d="M147.0 607.5V612.1M144.7 609.8H149.3" stroke="#000" stroke-width="0.85" fill="none"/>
<path d="M149.0 607.8V612.4M146.7 610.1H151.3" stroke="#000" stroke-width="0.85" fill="none"/>
<path d="M151.0 608.1V612.7M148.7 610.4H153.3" stroke="#000" stroke-width="0.85" fill="none"/>
<path d="M153.0 608.4V613.0M150.7 610.7H155.3" stroke="#000" stroke-width="0.85" fill="none"/>
<path d="M155.0 608.7V613.3M152.7 611.0H157.3" stroke="#000" stroke-width="0.85" fill="none"/>
<path d="M157.0 609.0V613.6M154.7 611.3H159.3" stroke="#000" stroke-width="0.85" fill="none"/>
<path d="M159.0 609.2V613.8M156.7 611.5H161.3" stroke="#000" stroke-width="0.85" fill="none"/>
<path d="M161.0 609.5V614.1M158.7 611.8H163.3" stroke="#000" stroke-width="0.85" fill="none"/>
<path d="M163.0 609.7V614.3M160.7 612.0H165.3" stroke="#000" stroke-width="0.85" fill="none"/>
<path d="M165.0 610.0V614.6M162.7 612.3H167.3" stroke="#000" stroke-width="0.85" fill="none"/>
<path d="M167.0 610.2V614.8M164.7 612.5H169.3" stroke="#000" stroke-width="0.85" fill="none"/>
<path d="M169.0 610.4V615.0M166.7 612.7H171.3" stroke="#000" stroke-width="0.85" fill="none"/>
<path d="M171.0 610.7V615.3M168.7 613.0H173.3" stroke="#000" stroke-width="0.85" fill="none"/>
<path d="M173.0 610.9V615.5M170.7 613.2H175.3" stroke="#000" stroke-width="0.85" fill="none"/>
<path d="M175.0 611.1V615.7M172.7 613.4H177.3" stroke="#000" stroke-width="0.85" fill="none"/>
<path d="M177.0 611.4V616.0M174.7 613.7H179.3" stroke="#000" stroke-width="0.85" fill="none"/>
<path d="M179.0 611.6V616.2M176.7 613.9H181.3" stroke="#000" stroke-width="0.85" fill="none"/>
<path d="M181.0 611.9V616.5M178.7 614.2H183.3" stroke="#000" stroke-width="0.85" fill="none"/>
<path d="M183.0 612.3V616.9M180.7 614.6H185.3" stroke="#000" stroke-width="0.85" fill="none"/>
<path d="M185.0 612.7V617.3M182.7 615.0H187.3" stroke="#000" stroke-width="0.85" fill="none"/>
<path d="M187.0 613.1V617.7M184.7 615.4H189.3" stroke="#000" stroke-width="0.85" fill="none"/>
<path d="M189.0 613.5V618.1M186.7 615.8H191.3" stroke="#000" stroke-width="0.85" fill="none"/>
<path d="M192.0 614.0V618.6M189.7 616.3H194.3" stroke="#000" stroke-width="0.85" fill="none"/>
<path d="M195.0 614.4V619.0M192.7 616.7H197.3" stroke="#000" stroke-width="0.85" fill="none"/>
<path d="M198.0 614.8V619.4M195.7 617.1H200.3" stroke="#000" stroke-width="0.85" fill="none"/>
<path d="M201.0 615.3V619.9M198.7 617.6H203.3" stroke="#000" stroke-width="0.85" fill="none"/>
<path d="M204.0 615.5V620.1M201.7 617.8H206.3" stroke="#000" stroke-width="0.85" fill="none"/>
<path d="M207.0 615.7V620.3M204.7 618.0H209.3" stroke="#000" stroke-width="0.85" fill="none"/>
<path d="M212.0 617.2V621.8M209.7 619.5H214.3" stroke="#000" stroke-width="0.85" fill="none"/>
<path d="M216.0 618.0V622.6M213.7 620.3H218.3" stroke="#000" stroke-width="0.85" fill="none"/>
<path d="M220.0 618.0V622.6M217.7 620.3H222.3" stroke="#000" stroke-width="0.85" fill="none"/>
<path d="M224.0 620.2V624.8M221.7 622.5H226.3" stroke="#000" stroke-width="0.85" fill="none"/>
<path d="M226.0 620.4V625.0M223.7 622.7H228.3" stroke="#000" stroke-width="0.85" fill="none"/>
<path d="M234.0 623.9V628.5M231.7 626.2H236.3" stroke="#000" stroke-width="0.85" fill="none"/>
<path d="M238.0 623.9V628.5M235.7 626.2H240.3" stroke="#000" stroke-width="0.85" fill="none"/>
<path d="M247.0 629.7V634.3M244.7 632.0H249.3" stroke="#000" stroke-width="0.85" fill="none"/>
<path d="M250.0 629.7V634.3M247.7 632.0H252.3" stroke="#000" stroke-width="0.85" fill="none"/>
<path d="M271.0 629.7V634.3M268.7 632.0H273.3" stroke="#000" stroke-width="0.85" fill="none"/>
<path d="M276.0 629.7V634.3M273.7 632.0H278.3" stroke="#000" stroke-width="0.85" fill="none"/>
<polyline points="72.4,500.3 74.2,501.8 76.6,504.9 80.7,514.0 86.5,528.0 90.7,537.1 96.4,548.7 99.8,552.9 103.9,560.6 112.3,571.2 116.6,576.5 125.0,581.8 133.5,586.0 144.1,590.2 154.7,592.4 165.2,593.8 175.8,596.2 188.5,598.3 190.6,599.2 201.2,602.3 211.7,607.0 244.6,607.6 244.6,615.0 284.1,615.0" fill="none" stroke="#dc1a1e" stroke-width="1.0" stroke-linejoin="round" stroke-linecap="butt" />
<path d="M74.0 499.3V503.9M71.7 501.6H76.3" stroke="#dc1a1e" stroke-width="0.85" fill="none"/>
<path d="M75.5 501.2V505.8M73.2 503.5H77.8" stroke="#dc1a1e" stroke-width="0.85" fill="none"/>
<path d="M77.0 503.5V508.1M74.7 505.8H79.3" stroke="#dc1a1e" stroke-width="0.85" fill="none"/>
<path d="M78.5 506.8V511.4M76.2 509.1H80.8" stroke="#dc1a1e" stroke-width="0.85" fill="none"/>
<path d="M80.0 510.1V514.7M77.7 512.4H82.3" stroke="#dc1a1e" stroke-width="0.85" fill="none"/>
<path d="M82.0 514.8V519.4M79.7 517.1H84.3" stroke="#dc1a1e" stroke-width="0.85" fill="none"/>
<path d="M84.5 520.9V525.5M82.2 523.2H86.8" stroke="#dc1a1e" stroke-width="0.85" fill="none"/>
<path d="M86.0 524.5V529.1M83.7 526.8H88.3" stroke="#dc1a1e" stroke-width="0.85" fill="none"/>
<path d="M87.5 527.9V532.5M85.2 530.2H89.8" stroke="#dc1a1e" stroke-width="0.85" fill="none"/>
<path d="M90.0 533.3V537.9M87.7 535.6H92.3" stroke="#dc1a1e" stroke-width="0.85" fill="none"/>
<path d="M96.3 546.2V550.8M94.0 548.5H98.6" stroke="#dc1a1e" stroke-width="0.85" fill="none"/>
<path d="M103.4 557.4V562.0M101.1 559.7H105.7" stroke="#dc1a1e" stroke-width="0.85" fill="none"/>
<path d="M105.5 560.3V564.9M103.2 562.6H107.8" stroke="#dc1a1e" stroke-width="0.85" fill="none"/>
<path d="M106.9 562.1V566.7M104.6 564.4H109.2" stroke="#dc1a1e" stroke-width="0.85" fill="none"/>
<path d="M109.0 564.7V569.3M106.7 567.0H111.3" stroke="#dc1a1e" stroke-width="0.85" fill="none"/>
<path d="M111.2 567.5V572.1M108.9 569.8H113.5" stroke="#dc1a1e" stroke-width="0.85" fill="none"/>
<path d="M114.7 571.9V576.5M112.4 574.2H117.0" stroke="#dc1a1e" stroke-width="0.85" fill="none"/>
<path d="M116.1 573.6V578.2M113.8 575.9H118.4" stroke="#dc1a1e" stroke-width="0.85" fill="none"/>
<path d="M121.7 577.4V582.0M119.4 579.7H124.0" stroke="#dc1a1e" stroke-width="0.85" fill="none"/>
<path d="M126.0 580.0V584.6M123.7 582.3H128.3" stroke="#dc1a1e" stroke-width="0.85" fill="none"/>
<path d="M128.1 581.0V585.6M125.8 583.3H130.4" stroke="#dc1a1e" stroke-width="0.85" fill="none"/>
<path d="M135.1 584.3V588.9M132.8 586.6H137.4" stroke="#dc1a1e" stroke-width="0.85" fill="none"/>
<path d="M140.1 586.3V590.9M137.8 588.6H142.4" stroke="#dc1a1e" stroke-width="0.85" fill="none"/>
<path d="M146.4 588.4V593.0M144.1 590.7H148.7" stroke="#dc1a1e" stroke-width="0.85" fill="none"/>
<path d="M149.2 589.0V593.6M146.9 591.3H151.5" stroke="#dc1a1e" stroke-width="0.85" fill="none"/>
<path d="M151.0 589.3V593.9M148.7 591.6H153.3" stroke="#dc1a1e" stroke-width="0.85" fill="none"/>
<path d="M154.0 590.0V594.6M151.7 592.3H156.3" stroke="#dc1a1e" stroke-width="0.85" fill="none"/>
<path d="M157.0 590.4V595.0M154.7 592.7H159.3" stroke="#dc1a1e" stroke-width="0.85" fill="none"/>
<path d="M159.0 590.7V595.3M156.7 593.0H161.3" stroke="#dc1a1e" stroke-width="0.85" fill="none"/>
<path d="M161.0 590.9V595.5M158.7 593.2H163.3" stroke="#dc1a1e" stroke-width="0.85" fill="none"/>
<path d="M163.0 591.2V595.8M160.7 593.5H165.3" stroke="#dc1a1e" stroke-width="0.85" fill="none"/>
<path d="M165.0 591.5V596.1M162.7 593.8H167.3" stroke="#dc1a1e" stroke-width="0.85" fill="none"/>
<path d="M167.0 591.9V596.5M164.7 594.2H169.3" stroke="#dc1a1e" stroke-width="0.85" fill="none"/>
<path d="M169.0 592.4V597.0M166.7 594.7H171.3" stroke="#dc1a1e" stroke-width="0.85" fill="none"/>
<path d="M171.0 592.8V597.4M168.7 595.1H173.3" stroke="#dc1a1e" stroke-width="0.85" fill="none"/>
<path d="M173.0 593.3V597.9M170.7 595.6H175.3" stroke="#dc1a1e" stroke-width="0.85" fill="none"/>
<path d="M175.0 593.7V598.3M172.7 596.0H177.3" stroke="#dc1a1e" stroke-width="0.85" fill="none"/>
<path d="M177.0 594.1V598.7M174.7 596.4H179.3" stroke="#dc1a1e" stroke-width="0.85" fill="none"/>
<path d="M179.0 594.4V599.0M176.7 596.7H181.3" stroke="#dc1a1e" stroke-width="0.85" fill="none"/>
<path d="M181.0 594.8V599.4M178.7 597.1H183.3" stroke="#dc1a1e" stroke-width="0.85" fill="none"/>
<path d="M183.0 595.1V599.7M180.7 597.4H185.3" stroke="#dc1a1e" stroke-width="0.85" fill="none"/>
<path d="M185.0 595.4V600.0M182.7 597.7H187.3" stroke="#dc1a1e" stroke-width="0.85" fill="none"/>
<path d="M187.0 595.8V600.4M184.7 598.1H189.3" stroke="#dc1a1e" stroke-width="0.85" fill="none"/>
<path d="M189.0 596.2V600.8M186.7 598.5H191.3" stroke="#dc1a1e" stroke-width="0.85" fill="none"/>
<path d="M191.0 597.0V601.6M188.7 599.3H193.3" stroke="#dc1a1e" stroke-width="0.85" fill="none"/>
<path d="M193.0 597.6V602.2M190.7 599.9H195.3" stroke="#dc1a1e" stroke-width="0.85" fill="none"/>
<path d="M195.0 598.2V602.8M192.7 600.5H197.3" stroke="#dc1a1e" stroke-width="0.85" fill="none"/>
<path d="M197.0 598.8V603.4M194.7 601.1H199.3" stroke="#dc1a1e" stroke-width="0.85" fill="none"/>
<path d="M199.0 599.4V604.0M196.7 601.7H201.3" stroke="#dc1a1e" stroke-width="0.85" fill="none"/>
<path d="M201.0 599.9V604.5M198.7 602.2H203.3" stroke="#dc1a1e" stroke-width="0.85" fill="none"/>
<path d="M204.0 601.3V605.9M201.7 603.6H206.3" stroke="#dc1a1e" stroke-width="0.85" fill="none"/>
<path d="M207.0 602.6V607.2M204.7 604.9H209.3" stroke="#dc1a1e" stroke-width="0.85" fill="none"/>
<path d="M212.0 604.7V609.3M209.7 607.0H214.3" stroke="#dc1a1e" stroke-width="0.85" fill="none"/>
<path d="M215.0 604.8V609.4M212.7 607.1H217.3" stroke="#dc1a1e" stroke-width="0.85" fill="none"/>
<path d="M218.0 604.8V609.4M215.7 607.1H220.3" stroke="#dc1a1e" stroke-width="0.85" fill="none"/>
<path d="M221.0 604.9V609.5M218.7 607.2H223.3" stroke="#dc1a1e" stroke-width="0.85" fill="none"/>
<path d="M223.0 604.9V609.5M220.7 607.2H225.3" stroke="#dc1a1e" stroke-width="0.85" fill="none"/>
<path d="M225.0 604.9V609.5M222.7 607.2H227.3" stroke="#dc1a1e" stroke-width="0.85" fill="none"/>
<path d="M229.0 605.0V609.6M226.7 607.3H231.3" stroke="#dc1a1e" stroke-width="0.85" fill="none"/>
<path d="M233.0 605.1V609.7M230.7 607.4H235.3" stroke="#dc1a1e" stroke-width="0.85" fill="none"/>
<path d="M235.0 605.1V609.7M232.7 607.4H237.3" stroke="#dc1a1e" stroke-width="0.85" fill="none"/>
<path d="M238.0 605.2V609.8M235.7 607.5H240.3" stroke="#dc1a1e" stroke-width="0.85" fill="none"/>
<path d="M241.0 605.2V609.8M238.7 607.5H243.3" stroke="#dc1a1e" stroke-width="0.85" fill="none"/>
<path d="M252.0 612.7V617.3M249.7 615.0H254.3" stroke="#dc1a1e" stroke-width="0.85" fill="none"/>
<path d="M255.0 612.7V617.3M252.7 615.0H257.3" stroke="#dc1a1e" stroke-width="0.85" fill="none"/>
<path d="M260.0 612.7V617.3M257.7 615.0H262.3" stroke="#dc1a1e" stroke-width="0.85" fill="none"/>
<path d="M282.0 612.7V617.3M279.7 615.0H284.3" stroke="#dc1a1e" stroke-width="0.85" fill="none"/>
</g>
<text x="38.8" y="509.7" font-size="19" text-anchor="start" fill="#000" font-weight="bold" >d</text>
<rect x="335.8" y="494.2" width="217.99999999999994" height="175.7" fill="#fff" stroke="#858585" stroke-width="1.05"/>
<line x1="335.8" y1="669.9" x2="335.8" y2="674.1999999999999" stroke="#555" stroke-width="0.9"/>
<text x="335.8" y="684.3" font-size="6.5" text-anchor="middle" fill="#000" font-weight="normal" >0</text>
<line x1="378.9" y1="669.9" x2="378.9" y2="674.1999999999999" stroke="#555" stroke-width="0.9"/>
<text x="378.9" y="684.3" font-size="6.5" text-anchor="middle" fill="#000" font-weight="normal" >50</text>
<line x1="422.0" y1="669.9" x2="422.0" y2="674.1999999999999" stroke="#555" stroke-width="0.9"/>
<text x="422.0" y="684.3" font-size="6.5" text-anchor="middle" fill="#000" font-weight="normal" >100</text>
<line x1="465.1" y1="669.9" x2="465.1" y2="674.1999999999999" stroke="#555" stroke-width="0.9"/>
<text x="465.1" y="684.3" font-size="6.5" text-anchor="middle" fill="#000" font-weight="normal" >150</text>
<line x1="508.2" y1="669.9" x2="508.2" y2="674.1999999999999" stroke="#555" stroke-width="0.9"/>
<text x="508.2" y="684.3" font-size="6.5" text-anchor="middle" fill="#000" font-weight="normal" >200</text>
<line x1="551.3" y1="669.9" x2="551.3" y2="674.1999999999999" stroke="#555" stroke-width="0.9"/>
<text x="551.3" y="684.3" font-size="6.5" text-anchor="middle" fill="#000" font-weight="normal" >250</text>
<line x1="331.5" y1="663.2" x2="335.8" y2="663.2" stroke="#555" stroke-width="0.9"/>
<text transform="translate(327.2,663.2) rotate(-90)" font-size="6.5" text-anchor="middle" fill="#000">0.0</text>
<line x1="331.5" y1="630.6" x2="335.8" y2="630.6" stroke="#555" stroke-width="0.9"/>
<text transform="translate(327.2,630.6) rotate(-90)" font-size="6.5" text-anchor="middle" fill="#000">0.2</text>
<line x1="331.5" y1="598.1" x2="335.8" y2="598.1" stroke="#555" stroke-width="0.9"/>
<text transform="translate(327.2,598.1) rotate(-90)" font-size="6.5" text-anchor="middle" fill="#000">0.4</text>
<line x1="331.5" y1="565.5" x2="335.8" y2="565.5" stroke="#555" stroke-width="0.9"/>
<text transform="translate(327.2,565.5) rotate(-90)" font-size="6.5" text-anchor="middle" fill="#000">0.6</text>
<line x1="331.5" y1="533.0" x2="335.8" y2="533.0" stroke="#555" stroke-width="0.9"/>
<text transform="translate(327.2,533.0) rotate(-90)" font-size="6.5" text-anchor="middle" fill="#000">0.8</text>
<line x1="331.5" y1="500.4" x2="335.8" y2="500.4" stroke="#555" stroke-width="0.9"/>
<text transform="translate(327.2,500.4) rotate(-90)" font-size="6.5" text-anchor="middle" fill="#000">1.0</text>
<text transform="translate(311.8,581.8) rotate(-90)" font-size="6.3" text-anchor="middle" fill="#000">Probability</text>
<text x="444.8" y="698.9" font-size="6.3" text-anchor="middle" fill="#000" font-weight="normal" >Time (months)</text>
<text x="549.2" y="504.8" font-size="6.4" text-anchor="end" fill="#000" font-weight="normal" >HR = 1.14 (1 − 1.29)</text>
<text x="549.2" y="512.6" font-size="6.4" text-anchor="end" fill="#000" font-weight="normal" >logrank P = 0.048</text>
<text x="339.4" y="647.5" font-size="6.4" text-anchor="start" fill="#000" font-weight="normal" >Expression</text>
<line x1="341.7" y1="654.8" x2="353.2" y2="654.8" stroke="#444" stroke-width="0.8"/>
<line x1="341.7" y1="662.6" x2="353.2" y2="662.6" stroke="#e4464a" stroke-width="0.8"/>
<text x="358.8" y="657.1" font-size="6.4" text-anchor="start" fill="#000" font-weight="normal" >low</text>
<text x="358.8" y="664.9" font-size="6.4" text-anchor="start" fill="#000" font-weight="normal" >high</text>
<text x="336.3" y="706.7" font-size="6.3" text-anchor="start" fill="#000" font-weight="normal" >Number at risk</text>
<text x="335.8" y="714.0" font-size="6.4" text-anchor="middle" fill="#000" font-weight="normal" >718</text>
<text x="335.8" y="721.8" font-size="6.4" text-anchor="middle" fill="#dc1a1e" font-weight="normal" >717</text>
<text x="378.9" y="714.0" font-size="6.4" text-anchor="middle" fill="#000" font-weight="normal" >98</text>
<text x="378.9" y="721.8" font-size="6.4" text-anchor="middle" fill="#dc1a1e" font-weight="normal" >74</text>
<text x="422.0" y="714.0" font-size="6.4" text-anchor="middle" fill="#000" font-weight="normal" >20</text>
<text x="422.0" y="721.8" font-size="6.4" text-anchor="middle" fill="#dc1a1e" font-weight="normal" >15</text>
<text x="465.1" y="714.0" font-size="6.4" text-anchor="middle" fill="#000" font-weight="normal" >3</text>
<text x="465.1" y="721.8" font-size="6.4" text-anchor="middle" fill="#dc1a1e" font-weight="normal" >5</text>
<text x="508.2" y="714.0" font-size="6.4" text-anchor="middle" fill="#000" font-weight="normal" >0</text>
<text x="508.2" y="721.8" font-size="6.4" text-anchor="middle" fill="#dc1a1e" font-weight="normal" >1</text>
<text x="551.3" y="714.0" font-size="6.4" text-anchor="middle" fill="#000" font-weight="normal" >0</text>
<text x="551.3" y="721.8" font-size="6.4" text-anchor="middle" fill="#dc1a1e" font-weight="normal" >0</text>
<text x="326.4" y="714.0" font-size="6.4" text-anchor="end" fill="#000" font-weight="normal" >low</text>
<text x="326.4" y="721.8" font-size="6.4" text-anchor="end" fill="#dc1a1e" font-weight="normal" >high</text>
<clipPath id="clipe"><rect x="335.8" y="494.2" width="217.99999999999994" height="175.7"/></clipPath>
<g clip-path="url(#clipe)">
<polyline points="336.0,500.4 339.6,506.0 342.9,512.6 344.0,519.2 345.7,531.4 346.8,539.1 348.4,547.9 350.6,559.0 352.8,572.1 354.8,584.3 359.8,599.1 367.2,609.1 374.7,616.5 382.1,623.9 389.5,628.9 396.0,632.0" fill="none" stroke="#000" stroke-width="2.0" stroke-linejoin="round" stroke-linecap="butt" />
<polyline points="396.0,632.0 402.0,635.1 411.9,641.3 421.8,646.3 431.7,650.0 440.0,652.0 447.8,652.6 449.0,654.2 477.0,654.2 477.6,658.9 493.8,658.9" fill="none" stroke="#000" stroke-width="0.9" stroke-linejoin="round" stroke-linecap="butt" />
<path d="M398.0 630.7V635.3M395.7 633.0H400.3" stroke="#000" stroke-width="0.85" fill="none"/>
<path d="M401.0 632.3V636.9M398.7 634.6H403.3" stroke="#000" stroke-width="0.85" fill="none"/>
<path d="M404.0 634.1V638.7M401.7 636.4H406.3" stroke="#000" stroke-width="0.85" fill="none"/>
<path d="M407.0 635.9V640.5M404.7 638.2H409.3" stroke="#000" stroke-width="0.85" fill="none"/>
<path d="M410.0 637.8V642.4M407.7 640.1H412.3" stroke="#000" stroke-width="0.85" fill="none"/>
<path d="M413.0 639.6V644.2M410.7 641.9H415.3" stroke="#000" stroke-width="0.85" fill="none"/>
<path d="M416.0 641.1V645.7M413.7 643.4H418.3" stroke="#000" stroke-width="0.85" fill="none"/>
<path d="M419.0 642.6V647.2M416.7 644.9H421.3" stroke="#000" stroke-width="0.85" fill="none"/>
<path d="M422.0 644.1V648.7M419.7 646.4H424.3" stroke="#000" stroke-width="0.85" fill="none"/>
<path d="M425.0 645.2V649.8M422.7 647.5H427.3" stroke="#000" stroke-width="0.85" fill="none"/>
<path d="M428.0 646.3V650.9M425.7 648.6H430.3" stroke="#000" stroke-width="0.85" fill="none"/>
<path d="M431.0 647.4V652.0M428.7 649.7H433.3" stroke="#000" stroke-width="0.85" fill="none"/>
<path d="M434.0 648.3V652.9M431.7 650.6H436.3" stroke="#000" stroke-width="0.85" fill="none"/>
<path d="M437.0 649.0V653.6M434.7 651.3H439.3" stroke="#000" stroke-width="0.85" fill="none"/>
<path d="M440.0 649.7V654.3M437.7 652.0H442.3" stroke="#000" stroke-width="0.85" fill="none"/>
<path d="M443.0 649.9V654.5M440.7 652.2H445.3" stroke="#000" stroke-width="0.85" fill="none"/>
<path d="M447.0 650.2V654.8M444.7 652.5H449.3" stroke="#000" stroke-width="0.85" fill="none"/>
<path d="M458.0 651.9V656.5M455.7 654.2H460.3" stroke="#000" stroke-width="0.85" fill="none"/>
<path d="M460.0 651.9V656.5M457.7 654.2H462.3" stroke="#000" stroke-width="0.85" fill="none"/>
<path d="M473.0 651.9V656.5M470.7 654.2H475.3" stroke="#000" stroke-width="0.85" fill="none"/>
<path d="M336.7 500.0V504.4M334.5 502.2H338.9" stroke="#000" stroke-width="0.8" fill="none"/>
<path d="M339.0 503.4V507.8M336.8 505.6H341.2" stroke="#000" stroke-width="0.8" fill="none"/>
<path d="M341.3 506.1V510.5M339.1 508.3H343.5" stroke="#000" stroke-width="0.8" fill="none"/>
<path d="M342.1 510.9V515.3M339.9 513.1H344.3" stroke="#000" stroke-width="0.8" fill="none"/>
<path d="M343.2 513.9V518.3M341.0 516.1H345.4" stroke="#000" stroke-width="0.8" fill="none"/>
<path d="M345.0 518.2V522.6M342.8 520.4H347.2" stroke="#000" stroke-width="0.8" fill="none"/>
<path d="M345.3 522.2V526.6M343.1 524.4H347.5" stroke="#000" stroke-width="0.8" fill="none"/>
<path d="M345.5 525.6V530.0M343.3 527.8H347.7" stroke="#000" stroke-width="0.8" fill="none"/>
<path d="M346.1 530.7V535.1M343.9 532.9H348.3" stroke="#000" stroke-width="0.8" fill="none"/>
<path d="M346.4 534.5V538.9M344.2 536.7H348.6" stroke="#000" stroke-width="0.8" fill="none"/>
<path d="M347.3 537.4V541.8M345.1 539.6H349.5" stroke="#000" stroke-width="0.8" fill="none"/>
<path d="M348.1 542.1V546.5M345.9 544.3H350.3" stroke="#000" stroke-width="0.8" fill="none"/>
<path d="M348.1 545.2V549.6M345.9 547.4H350.3" stroke="#000" stroke-width="0.8" fill="none"/>
<path d="M349.8 549.8V554.2M347.6 552.0H352.0" stroke="#000" stroke-width="0.8" fill="none"/>
<path d="M350.4 554.4V558.8M348.2 556.6H352.6" stroke="#000" stroke-width="0.8" fill="none"/>
<path d="M351.1 558.4V562.8M348.9 560.6H353.3" stroke="#000" stroke-width="0.8" fill="none"/>
<path d="M351.2 562.1V566.5M349.0 564.3H353.4" stroke="#000" stroke-width="0.8" fill="none"/>
<path d="M352.0 566.3V570.7M349.8 568.5H354.2" stroke="#000" stroke-width="0.8" fill="none"/>
<path d="M353.3 568.9V573.3M351.1 571.1H355.5" stroke="#000" stroke-width="0.8" fill="none"/>
<path d="M352.8 573.0V577.4M350.6 575.2H355.0" stroke="#000" stroke-width="0.8" fill="none"/>
<path d="M354.8 577.3V581.7M352.6 579.5H357.0" stroke="#000" stroke-width="0.8" fill="none"/>
<path d="M354.9 581.1V585.5M352.7 583.3H357.1" stroke="#000" stroke-width="0.8" fill="none"/>
<path d="M355.9 585.0V589.4M353.7 587.2H358.1" stroke="#000" stroke-width="0.8" fill="none"/>
<path d="M356.9 589.1V593.5M354.7 591.3H359.1" stroke="#000" stroke-width="0.8" fill="none"/>
<path d="M358.5 593.4V597.8M356.3 595.6H360.7" stroke="#000" stroke-width="0.8" fill="none"/>
<path d="M360.0 597.3V601.7M357.8 599.5H362.2" stroke="#000" stroke-width="0.8" fill="none"/>
<path d="M362.5 600.6V605.0M360.3 602.8H364.7" stroke="#000" stroke-width="0.8" fill="none"/>
<path d="M364.6 602.5V606.9M362.4 604.7H366.8" stroke="#000" stroke-width="0.8" fill="none"/>
<path d="M367.3 607.0V611.4M365.1 609.2H369.5" stroke="#000" stroke-width="0.8" fill="none"/>
<path d="M370.1 609.3V613.7M367.9 611.5H372.3" stroke="#000" stroke-width="0.8" fill="none"/>
<path d="M372.7 611.5V615.9M370.5 613.7H374.9" stroke="#000" stroke-width="0.8" fill="none"/>
<path d="M375.7 614.9V619.3M373.5 617.1H377.9" stroke="#000" stroke-width="0.8" fill="none"/>
<path d="M377.7 616.9V621.3M375.5 619.1H379.9" stroke="#000" stroke-width="0.8" fill="none"/>
<path d="M381.4 621.2V625.6M379.2 623.4H383.6" stroke="#000" stroke-width="0.8" fill="none"/>
<path d="M383.3 623.4V627.8M381.1 625.6H385.5" stroke="#000" stroke-width="0.8" fill="none"/>
<path d="M387.1 624.6V629.0M384.9 626.8H389.3" stroke="#000" stroke-width="0.8" fill="none"/>
<path d="M390.3 627.7V632.1M388.1 629.9H392.5" stroke="#000" stroke-width="0.8" fill="none"/>
<path d="M394.9 628.2V632.6M392.7 630.4H397.1" stroke="#000" stroke-width="0.8" fill="none"/>
<polyline points="336.0,502.5 338.5,509.3 340.7,515.9 342.4,523.6 344.0,533.6 345.1,541.3 346.2,550.1 347.9,561.1 349.5,572.1 352.4,586.7 357.3,601.6 364.8,614.0 374.7,621.5 384.6,626.4 397.0,630.1" fill="none" stroke="#dc1a1e" stroke-width="2.2" stroke-linejoin="round" stroke-linecap="butt" />
<polyline points="397.0,630.1 409.4,632.6 421.8,637.6 426.7,641.3 430.5,645.0 447.8,644.8 449.0,647.0 477.0,647.0 477.6,650.4 545.7,650.4" fill="none" stroke="#dc1a1e" stroke-width="0.9" stroke-linejoin="round" stroke-linecap="butt" />
<path d="M399.0 628.2V632.8M396.7 630.5H401.3" stroke="#dc1a1e" stroke-width="0.85" fill="none"/>
<path d="M402.0 628.8V633.4M399.7 631.1H404.3" stroke="#dc1a1e" stroke-width="0.85" fill="none"/>
<path d="M405.0 629.4V634.0M402.7 631.7H407.3" stroke="#dc1a1e" stroke-width="0.85" fill="none"/>
<path d="M408.0 630.0V634.6M405.7 632.3H410.3" stroke="#dc1a1e" stroke-width="0.85" fill="none"/>
<path d="M412.0 631.3V635.9M409.7 633.6H414.3" stroke="#dc1a1e" stroke-width="0.85" fill="none"/>
<path d="M415.0 632.6V637.2M412.7 634.9H417.3" stroke="#dc1a1e" stroke-width="0.85" fill="none"/>
<path d="M418.0 633.8V638.4M415.7 636.1H420.3" stroke="#dc1a1e" stroke-width="0.85" fill="none"/>
<path d="M421.0 635.0V639.6M418.7 637.3H423.3" stroke="#dc1a1e" stroke-width="0.85" fill="none"/>
<path d="M424.0 637.0V641.6M421.7 639.3H426.3" stroke="#dc1a1e" stroke-width="0.85" fill="none"/>
<path d="M427.0 639.3V643.9M424.7 641.6H429.3" stroke="#dc1a1e" stroke-width="0.85" fill="none"/>
<path d="M431.0 642.7V647.3M428.7 645.0H433.3" stroke="#dc1a1e" stroke-width="0.85" fill="none"/>
<path d="M434.0 642.7V647.3M431.7 645.0H436.3" stroke="#dc1a1e" stroke-width="0.85" fill="none"/>
<path d="M438.0 642.6V647.2M435.7 644.9H440.3" stroke="#dc1a1e" stroke-width="0.85" fill="none"/>
<path d="M447.0 642.5V647.1M444.7 644.8H449.3" stroke="#dc1a1e" stroke-width="0.85" fill="none"/>
<path d="M453.0 644.7V649.3M450.7 647.0H455.3" stroke="#dc1a1e" stroke-width="0.85" fill="none"/>
<path d="M456.0 644.7V649.3M453.7 647.0H458.3" stroke="#dc1a1e" stroke-width="0.85" fill="none"/>
<path d="M475.0 644.7V649.3M472.7 647.0H477.3" stroke="#dc1a1e" stroke-width="0.85" fill="none"/>
<path d="M476.0 644.7V649.3M473.7 647.0H478.3" stroke="#dc1a1e" stroke-width="0.85" fill="none"/>
<path d="M545.0 648.1V652.7M542.7 650.4H547.3" stroke="#dc1a1e" stroke-width="0.85" fill="none"/>
<path d="M336.9 502.6V507.0M334.7 504.8H339.1" stroke="#dc1a1e" stroke-width="0.8" fill="none"/>
<path d="M338.6 506.4V510.8M336.4 508.6H340.8" stroke="#dc1a1e" stroke-width="0.8" fill="none"/>
<path d="M339.6 509.6V514.0M337.4 511.8H341.8" stroke="#dc1a1e" stroke-width="0.8" fill="none"/>
<path d="M338.9 511.8V516.2M336.7 514.0H341.1" stroke="#dc1a1e" stroke-width="0.8" fill="none"/>
<path d="M342.2 515.6V520.0M340.0 517.8H344.4" stroke="#dc1a1e" stroke-width="0.8" fill="none"/>
<path d="M342.8 517.6V522.0M340.6 519.8H345.0" stroke="#dc1a1e" stroke-width="0.8" fill="none"/>
<path d="M342.4 521.4V525.8M340.2 523.6H344.6" stroke="#dc1a1e" stroke-width="0.8" fill="none"/>
<path d="M343.2 525.7V530.1M341.0 527.9H345.4" stroke="#dc1a1e" stroke-width="0.8" fill="none"/>
<path d="M342.3 528.2V532.6M340.1 530.4H344.5" stroke="#dc1a1e" stroke-width="0.8" fill="none"/>
<path d="M343.6 533.5V537.9M341.4 535.7H345.8" stroke="#dc1a1e" stroke-width="0.8" fill="none"/>
<path d="M345.3 535.0V539.4M343.1 537.2H347.5" stroke="#dc1a1e" stroke-width="0.8" fill="none"/>
<path d="M345.9 538.4V542.8M343.7 540.6H348.1" stroke="#dc1a1e" stroke-width="0.8" fill="none"/>
<path d="M345.9 541.9V546.3M343.7 544.1H348.1" stroke="#dc1a1e" stroke-width="0.8" fill="none"/>
<path d="M344.7 547.3V551.7M342.5 549.5H346.9" stroke="#dc1a1e" stroke-width="0.8" fill="none"/>
<path d="M345.7 549.0V553.4M343.5 551.2H347.9" stroke="#dc1a1e" stroke-width="0.8" fill="none"/>
<path d="M348.3 554.2V558.6M346.1 556.4H350.5" stroke="#dc1a1e" stroke-width="0.8" fill="none"/>
<path d="M347.0 557.9V562.3M344.8 560.1H349.2" stroke="#dc1a1e" stroke-width="0.8" fill="none"/>
<path d="M348.2 560.6V565.0M346.0 562.8H350.4" stroke="#dc1a1e" stroke-width="0.8" fill="none"/>
<path d="M347.8 564.8V569.2M345.6 567.0H350.0" stroke="#dc1a1e" stroke-width="0.8" fill="none"/>
<path d="M349.6 568.3V572.7M347.4 570.5H351.8" stroke="#dc1a1e" stroke-width="0.8" fill="none"/>
<path d="M350.6 570.0V574.4M348.4 572.2H352.8" stroke="#dc1a1e" stroke-width="0.8" fill="none"/>
<path d="M349.9 573.1V577.5M347.7 575.3H352.1" stroke="#dc1a1e" stroke-width="0.8" fill="none"/>
<path d="M350.1 576.3V580.7M347.9 578.5H352.3" stroke="#dc1a1e" stroke-width="0.8" fill="none"/>
<path d="M351.2 581.1V585.5M349.0 583.3H353.4" stroke="#dc1a1e" stroke-width="0.8" fill="none"/>
<path d="M351.1 584.7V589.1M348.9 586.9H353.3" stroke="#dc1a1e" stroke-width="0.8" fill="none"/>
<path d="M353.0 587.1V591.5M350.8 589.3H355.2" stroke="#dc1a1e" stroke-width="0.8" fill="none"/>
<path d="M355.3 590.9V595.3M353.1 593.1H357.5" stroke="#dc1a1e" stroke-width="0.8" fill="none"/>
<path d="M355.1 594.2V598.6M352.9 596.4H357.3" stroke="#dc1a1e" stroke-width="0.8" fill="none"/>
<path d="M357.2 596.4V600.8M355.0 598.6H359.4" stroke="#dc1a1e" stroke-width="0.8" fill="none"/>
<path d="M359.3 599.5V603.9M357.1 601.7H361.5" stroke="#dc1a1e" stroke-width="0.8" fill="none"/>
<path d="M360.6 604.6V609.0M358.4 606.8H362.8" stroke="#dc1a1e" stroke-width="0.8" fill="none"/>
<path d="M360.5 607.5V611.9M358.3 609.7H362.7" stroke="#dc1a1e" stroke-width="0.8" fill="none"/>
<path d="M363.2 609.9V614.3M361.0 612.1H365.4" stroke="#dc1a1e" stroke-width="0.8" fill="none"/>
<path d="M364.4 611.3V615.7M362.2 613.5H366.6" stroke="#dc1a1e" stroke-width="0.8" fill="none"/>
<path d="M367.6 615.7V620.1M365.4 617.9H369.8" stroke="#dc1a1e" stroke-width="0.8" fill="none"/>
<path d="M370.5 617.3V621.7M368.3 619.5H372.7" stroke="#dc1a1e" stroke-width="0.8" fill="none"/>
<path d="M375.1 619.9V624.3M372.9 622.1H377.3" stroke="#dc1a1e" stroke-width="0.8" fill="none"/>
<path d="M376.7 620.1V624.5M374.5 622.3H378.9" stroke="#dc1a1e" stroke-width="0.8" fill="none"/>
<path d="M380.3 622.7V627.1M378.1 624.9H382.5" stroke="#dc1a1e" stroke-width="0.8" fill="none"/>
<path d="M382.3 624.2V628.6M380.1 626.4H384.5" stroke="#dc1a1e" stroke-width="0.8" fill="none"/>
<path d="M387.4 625.7V630.1M385.2 627.9H389.6" stroke="#dc1a1e" stroke-width="0.8" fill="none"/>
<path d="M388.8 627.0V631.4M386.6 629.2H391.0" stroke="#dc1a1e" stroke-width="0.8" fill="none"/>
<path d="M392.3 626.4V630.8M390.1 628.6H394.5" stroke="#dc1a1e" stroke-width="0.8" fill="none"/>
<path d="M397.0 628.9V633.3M394.8 631.1H399.2" stroke="#dc1a1e" stroke-width="0.8" fill="none"/>
</g>
<text x="303.3" y="509.3" font-size="19" text-anchor="start" fill="#000" font-weight="bold" >e</text>
</svg></body></html>
